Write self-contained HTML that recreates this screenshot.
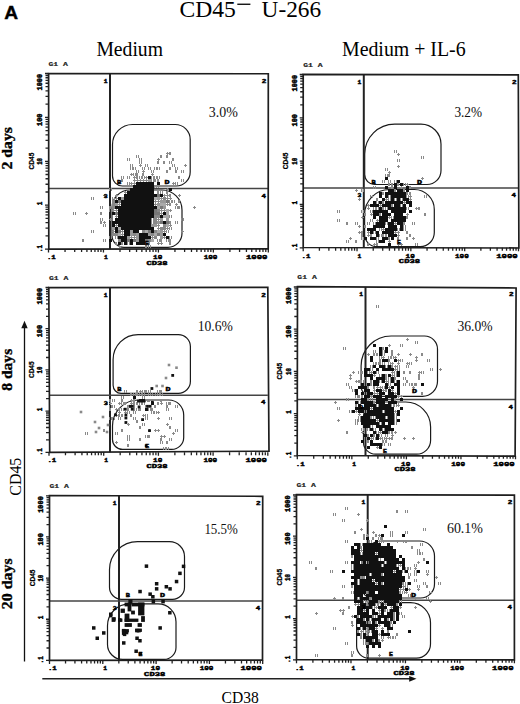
<!DOCTYPE html>
<html><head><meta charset="utf-8"><style>
html,body{margin:0;padding:0;background:#fff;width:520px;height:704px;overflow:hidden}
svg{display:block}
</style></head><body>
<svg width="520" height="704" viewBox="0 0 520 704">
<path d="M48.50,249.10v3.5 M48.50,249.10h-3.5 M65.04,249.10v3.0 M48.50,235.88h-3.0 M74.72,249.10v3.0 M48.50,228.15h-3.0 M81.58,249.10v3.0 M48.50,222.67h-3.0 M86.91,249.10v3.0 M48.50,218.42h-3.0 M91.26,249.10v3.0 M48.50,214.94h-3.0 M94.94,249.10v3.0 M48.50,212.00h-3.0 M98.12,249.10v3.0 M48.50,209.45h-3.0 M100.94,249.10v3.0 M48.50,207.21h-3.0 M103.45,249.10v3.5 M48.50,205.20h-3.5 M119.99,249.10v3.0 M48.50,191.98h-3.0 M129.67,249.10v3.0 M48.50,184.25h-3.0 M136.53,249.10v3.0 M48.50,178.77h-3.0 M141.86,249.10v3.0 M48.50,174.52h-3.0 M146.21,249.10v3.0 M48.50,171.04h-3.0 M149.89,249.10v3.0 M48.50,168.10h-3.0 M153.07,249.10v3.0 M48.50,165.55h-3.0 M155.89,249.10v3.0 M48.50,163.31h-3.0 M158.40,249.10v3.5 M48.50,161.30h-3.5 M174.94,249.10v3.0 M48.50,148.08h-3.0 M184.62,249.10v3.0 M48.50,140.35h-3.0 M191.48,249.10v3.0 M48.50,134.87h-3.0 M196.81,249.10v3.0 M48.50,130.62h-3.0 M201.16,249.10v3.0 M48.50,127.14h-3.0 M204.84,249.10v3.0 M48.50,124.20h-3.0 M208.02,249.10v3.0 M48.50,121.65h-3.0 M210.84,249.10v3.0 M48.50,119.41h-3.0 M213.35,249.10v3.5 M48.50,117.40h-3.5 M229.89,249.10v3.0 M48.50,104.18h-3.0 M239.57,249.10v3.0 M48.50,96.45h-3.0 M246.43,249.10v3.0 M48.50,90.97h-3.0 M251.76,249.10v3.0 M48.50,86.72h-3.0 M256.11,249.10v3.0 M48.50,83.24h-3.0 M259.79,249.10v3.0 M48.50,80.30h-3.0 M262.97,249.10v3.0 M48.50,77.75h-3.0 M265.79,249.10v3.0 M48.50,75.51h-3.0 M268.30,249.10v3.5 M48.50,73.50h-3.5" stroke="#222" stroke-width="1.3" fill="none"/>
<path d="M132.50,124.50 L175.20,124.50 C183.48,124.50 190.20,131.22 190.20,139.50 L190.20,172.00 C190.20,179.73 183.93,186.00 176.20,186.00 L122.50,186.00 C116.98,186.00 112.50,181.52 112.50,176.00 L112.50,144.50 C112.50,133.45 121.45,124.50 132.50,124.50Z" stroke="#1a1a1a" stroke-width="1.2" fill="none"/>
<path d="M130.00,190.00 L162.00,190.00 C173.05,190.00 182.00,198.95 182.00,210.00 L182.00,233.30 C182.00,241.03 175.73,247.30 168.00,247.30 L124.00,247.30 C117.37,247.30 112.00,241.93 112.00,235.30 L112.00,208.00 C112.00,198.06 120.06,190.00 130.00,190.00Z" stroke="#1a1a1a" stroke-width="1.2" fill="none"/>
<path d="M110.00,73.50V249.10" stroke="#222" stroke-width="2" fill="none"/>
<path d="M48.50,188.50H268.30" stroke="#444" stroke-width="1.5" fill="none"/>
<g fill="#8a8a8a" shape-rendering="crispEdges"><rect x="167" y="152" width="1" height="3"/><rect x="166" y="153" width="3" height="1"/><rect x="169" y="152" width="2" height="3"/><rect x="136" y="155" width="1" height="3"/><rect x="138" y="155" width="1" height="3"/><rect x="160" y="155" width="2" height="3"/><rect x="166" y="155" width="2" height="3"/><rect x="127" y="158" width="1" height="3"/><rect x="129" y="158" width="1" height="3"/><rect x="139" y="158" width="1" height="3"/><rect x="141" y="158" width="1" height="3"/><rect x="158" y="158" width="1" height="3"/><rect x="157" y="159" width="3" height="1"/><rect x="172" y="158" width="2" height="3"/><rect x="139" y="161" width="1" height="3"/><rect x="141" y="161" width="1" height="3"/><rect x="157" y="161" width="2" height="3"/><rect x="163" y="161" width="2" height="3"/><rect x="169" y="161" width="1" height="3"/><rect x="171" y="161" width="1" height="3"/><rect x="130" y="164" width="1" height="3"/><rect x="132" y="164" width="1" height="3"/><rect x="140" y="164" width="1" height="3"/><rect x="139" y="165" width="3" height="1"/><rect x="145" y="164" width="1" height="3"/><rect x="147" y="164" width="1" height="3"/><rect x="172" y="164" width="1" height="3"/><rect x="174" y="164" width="1" height="3"/><rect x="185" y="164" width="1" height="3"/><rect x="184" y="165" width="3" height="1"/><rect x="130" y="167" width="1" height="3"/><rect x="132" y="167" width="1" height="3"/><rect x="133" y="167" width="1" height="3"/><rect x="135" y="167" width="1" height="3"/><rect x="142" y="167" width="1" height="3"/><rect x="144" y="167" width="1" height="3"/><rect x="148" y="167" width="1" height="3"/><rect x="150" y="167" width="1" height="3"/><rect x="154" y="167" width="1" height="3"/><rect x="156" y="167" width="1" height="3"/><rect x="157" y="167" width="1" height="3"/><rect x="159" y="167" width="1" height="3"/><rect x="169" y="167" width="2" height="3"/><rect x="175" y="167" width="1" height="3"/><rect x="177" y="167" width="1" height="3"/><rect x="136" y="170" width="1" height="3"/><rect x="138" y="170" width="1" height="3"/><rect x="143" y="170" width="1" height="3"/><rect x="142" y="171" width="3" height="1"/><rect x="151" y="170" width="1" height="3"/><rect x="153" y="170" width="1" height="3"/><rect x="166" y="170" width="2" height="3"/><rect x="175" y="170" width="2" height="3"/><rect x="181" y="170" width="1" height="3"/><rect x="183" y="170" width="1" height="3"/><rect x="131" y="173" width="1" height="3"/><rect x="130" y="174" width="3" height="1"/><rect x="133" y="173" width="1" height="3"/><rect x="135" y="173" width="1" height="3"/><rect x="136" y="173" width="2" height="3"/><rect x="142" y="173" width="2" height="3"/><rect x="152" y="173" width="1" height="3"/><rect x="151" y="174" width="3" height="1"/><rect x="121" y="176" width="1" height="3"/><rect x="123" y="176" width="1" height="3"/><rect x="127" y="176" width="1" height="3"/><rect x="129" y="176" width="1" height="3"/><rect x="134" y="176" width="1" height="3"/><rect x="133" y="177" width="3" height="1"/><rect x="136" y="176" width="2" height="3"/><rect x="139" y="176" width="1" height="3"/><rect x="141" y="176" width="1" height="3"/><rect x="142" y="176" width="1" height="3"/><rect x="144" y="176" width="1" height="3"/><rect x="146" y="176" width="1" height="3"/><rect x="145" y="177" width="3" height="1"/><rect x="151" y="176" width="1" height="3"/><rect x="153" y="176" width="1" height="3"/><rect x="154" y="176" width="1" height="3"/><rect x="156" y="176" width="1" height="3"/><rect x="157" y="176" width="1" height="3"/><rect x="159" y="176" width="1" height="3"/><rect x="178" y="176" width="2" height="3"/><rect x="121" y="179" width="2" height="3"/><rect x="134" y="179" width="1" height="3"/><rect x="133" y="180" width="3" height="1"/><rect x="137" y="179" width="1" height="3"/><rect x="136" y="180" width="3" height="1"/><rect x="140" y="179" width="1" height="3"/><rect x="139" y="180" width="3" height="1"/><rect x="143" y="179" width="1" height="3"/><rect x="142" y="180" width="3" height="1"/><rect x="146" y="179" width="1" height="3"/><rect x="145" y="180" width="3" height="1"/><rect x="151" y="179" width="1" height="3"/><rect x="153" y="179" width="1" height="3"/><rect x="154" y="179" width="2" height="3"/><rect x="157" y="179" width="2" height="3"/><rect x="181" y="179" width="1" height="3"/><rect x="183" y="179" width="1" height="3"/><rect x="127" y="182" width="1" height="3"/><rect x="129" y="182" width="1" height="3"/><rect x="131" y="182" width="1" height="3"/><rect x="130" y="183" width="3" height="1"/><rect x="134" y="182" width="1" height="3"/><rect x="133" y="183" width="3" height="1"/><rect x="173" y="182" width="1" height="3"/><rect x="172" y="183" width="3" height="1"/><rect x="175" y="182" width="1" height="3"/><rect x="177" y="182" width="1" height="3"/><rect x="154" y="185" width="1" height="3"/><rect x="156" y="185" width="1" height="3"/><rect x="158" y="185" width="1" height="3"/><rect x="157" y="186" width="3" height="1"/><rect x="109" y="188" width="1" height="3"/><rect x="111" y="188" width="1" height="3"/><rect x="167" y="188" width="1" height="3"/><rect x="166" y="189" width="3" height="1"/><rect x="125" y="191" width="1" height="3"/><rect x="124" y="192" width="3" height="1"/><rect x="157" y="191" width="2" height="3"/><rect x="160" y="191" width="1" height="3"/><rect x="162" y="191" width="1" height="3"/><rect x="166" y="191" width="2" height="3"/><rect x="104" y="194" width="1" height="3"/><rect x="103" y="195" width="3" height="1"/><rect x="116" y="194" width="1" height="3"/><rect x="115" y="195" width="3" height="1"/><rect x="164" y="194" width="1" height="3"/><rect x="163" y="195" width="3" height="1"/><rect x="167" y="194" width="1" height="3"/><rect x="166" y="195" width="3" height="1"/><rect x="169" y="194" width="2" height="3"/><rect x="179" y="194" width="1" height="3"/><rect x="178" y="195" width="3" height="1"/><rect x="91" y="197" width="1" height="3"/><rect x="93" y="197" width="1" height="3"/><rect x="112" y="197" width="1" height="3"/><rect x="114" y="197" width="1" height="3"/><rect x="116" y="197" width="1" height="3"/><rect x="115" y="198" width="3" height="1"/><rect x="161" y="197" width="1" height="3"/><rect x="160" y="198" width="3" height="1"/><rect x="167" y="197" width="1" height="3"/><rect x="166" y="198" width="3" height="1"/><rect x="170" y="197" width="1" height="3"/><rect x="169" y="198" width="3" height="1"/><rect x="155" y="200" width="1" height="3"/><rect x="154" y="201" width="3" height="1"/><rect x="158" y="200" width="1" height="3"/><rect x="157" y="201" width="3" height="1"/><rect x="169" y="200" width="1" height="3"/><rect x="171" y="200" width="1" height="3"/><rect x="172" y="200" width="1" height="3"/><rect x="174" y="200" width="1" height="3"/><rect x="178" y="200" width="2" height="3"/><rect x="119" y="203" width="1" height="3"/><rect x="118" y="204" width="3" height="1"/><rect x="155" y="203" width="1" height="3"/><rect x="154" y="204" width="3" height="1"/><rect x="167" y="203" width="1" height="3"/><rect x="166" y="204" width="3" height="1"/><rect x="169" y="203" width="2" height="3"/><rect x="176" y="203" width="1" height="3"/><rect x="175" y="204" width="3" height="1"/><rect x="100" y="206" width="1" height="3"/><rect x="102" y="206" width="1" height="3"/><rect x="109" y="206" width="2" height="3"/><rect x="175" y="206" width="1" height="3"/><rect x="177" y="206" width="1" height="3"/><rect x="178" y="206" width="2" height="3"/><rect x="194" y="206" width="1" height="3"/><rect x="193" y="207" width="3" height="1"/><rect x="109" y="209" width="1" height="3"/><rect x="111" y="209" width="1" height="3"/><rect x="113" y="209" width="1" height="3"/><rect x="112" y="210" width="3" height="1"/><rect x="116" y="209" width="1" height="3"/><rect x="115" y="210" width="3" height="1"/><rect x="161" y="209" width="1" height="3"/><rect x="160" y="210" width="3" height="1"/><rect x="164" y="209" width="1" height="3"/><rect x="163" y="210" width="3" height="1"/><rect x="170" y="209" width="1" height="3"/><rect x="169" y="210" width="3" height="1"/><rect x="73" y="212" width="1" height="3"/><rect x="75" y="212" width="1" height="3"/><rect x="86" y="212" width="1" height="3"/><rect x="85" y="213" width="3" height="1"/><rect x="100" y="212" width="2" height="3"/><rect x="161" y="212" width="1" height="3"/><rect x="160" y="213" width="3" height="1"/><rect x="116" y="215" width="1" height="3"/><rect x="115" y="216" width="3" height="1"/><rect x="169" y="215" width="1" height="3"/><rect x="171" y="215" width="1" height="3"/><rect x="100" y="218" width="1" height="3"/><rect x="102" y="218" width="1" height="3"/><rect x="110" y="218" width="1" height="3"/><rect x="109" y="219" width="3" height="1"/><rect x="151" y="218" width="1" height="3"/><rect x="153" y="218" width="1" height="3"/><rect x="158" y="218" width="1" height="3"/><rect x="157" y="219" width="3" height="1"/><rect x="181" y="218" width="1" height="3"/><rect x="183" y="218" width="1" height="3"/><rect x="100" y="221" width="2" height="3"/><rect x="104" y="221" width="1" height="3"/><rect x="103" y="222" width="3" height="1"/><rect x="151" y="221" width="1" height="3"/><rect x="153" y="221" width="1" height="3"/><rect x="169" y="221" width="2" height="3"/><rect x="175" y="221" width="1" height="3"/><rect x="177" y="221" width="1" height="3"/><rect x="103" y="224" width="1" height="3"/><rect x="105" y="224" width="1" height="3"/><rect x="116" y="224" width="1" height="3"/><rect x="115" y="225" width="3" height="1"/><rect x="158" y="224" width="1" height="3"/><rect x="157" y="225" width="3" height="1"/><rect x="170" y="224" width="1" height="3"/><rect x="169" y="225" width="3" height="1"/><rect x="158" y="227" width="1" height="3"/><rect x="157" y="228" width="3" height="1"/><rect x="167" y="227" width="1" height="3"/><rect x="166" y="228" width="3" height="1"/><rect x="169" y="227" width="1" height="3"/><rect x="171" y="227" width="1" height="3"/><rect x="91" y="230" width="1" height="3"/><rect x="93" y="230" width="1" height="3"/><rect x="113" y="230" width="1" height="3"/><rect x="112" y="231" width="3" height="1"/><rect x="122" y="230" width="1" height="3"/><rect x="121" y="231" width="3" height="1"/><rect x="164" y="230" width="1" height="3"/><rect x="163" y="231" width="3" height="1"/><rect x="166" y="230" width="1" height="3"/><rect x="168" y="230" width="1" height="3"/><rect x="182" y="230" width="1" height="3"/><rect x="181" y="231" width="3" height="1"/><rect x="122" y="233" width="1" height="3"/><rect x="121" y="234" width="3" height="1"/><rect x="109" y="236" width="1" height="3"/><rect x="111" y="236" width="1" height="3"/><rect x="115" y="236" width="1" height="3"/><rect x="117" y="236" width="1" height="3"/><rect x="131" y="236" width="1" height="3"/><rect x="130" y="237" width="3" height="1"/><rect x="134" y="236" width="1" height="3"/><rect x="133" y="237" width="3" height="1"/><rect x="152" y="236" width="1" height="3"/><rect x="151" y="237" width="3" height="1"/><rect x="164" y="236" width="1" height="3"/><rect x="163" y="237" width="3" height="1"/><rect x="169" y="236" width="1" height="3"/><rect x="171" y="236" width="1" height="3"/><rect x="82" y="239" width="2" height="3"/><rect x="103" y="239" width="1" height="3"/><rect x="105" y="239" width="1" height="3"/><rect x="157" y="239" width="1" height="3"/><rect x="159" y="239" width="1" height="3"/><rect x="160" y="239" width="2" height="3"/><rect x="166" y="239" width="1" height="3"/><rect x="168" y="239" width="1" height="3"/><rect x="169" y="239" width="2" height="3"/><rect x="115" y="242" width="2" height="3"/><rect x="121" y="242" width="2" height="3"/><rect x="127" y="242" width="1" height="3"/><rect x="129" y="242" width="1" height="3"/><rect x="145" y="242" width="1" height="3"/><rect x="147" y="242" width="1" height="3"/><rect x="148" y="242" width="2" height="3"/><rect x="158" y="242" width="1" height="3"/><rect x="157" y="243" width="3" height="1"/><rect x="161" y="242" width="1" height="3"/><rect x="160" y="243" width="3" height="1"/><rect x="169" y="242" width="2" height="3"/><rect x="119" y="245" width="1" height="3"/><rect x="118" y="246" width="3" height="1"/><rect x="145" y="245" width="2" height="3"/><rect x="148" y="245" width="1" height="3"/><rect x="150" y="245" width="1" height="3"/></g><g fill="#888" shape-rendering="crispEdges"><rect x="148" y="179" width="3" height="3" fill="#999"/><rect x="157" y="194" width="3" height="3" fill="#777"/><rect x="121" y="197" width="3" height="3" fill="#999"/><rect x="154" y="197" width="3" height="3" fill="#aaa"/><rect x="157" y="197" width="3" height="3" fill="#999"/><rect x="163" y="197" width="3" height="3" fill="#888"/><rect x="112" y="200" width="3" height="3" fill="#888"/><rect x="118" y="200" width="3" height="3" fill="#777"/><rect x="160" y="200" width="3" height="3" fill="#999"/><rect x="163" y="200" width="3" height="3" fill="#999"/><rect x="166" y="200" width="3" height="3" fill="#777"/><rect x="112" y="203" width="3" height="3" fill="#888"/><rect x="115" y="203" width="3" height="3" fill="#999"/><rect x="157" y="203" width="3" height="3" fill="#999"/><rect x="160" y="203" width="3" height="3" fill="#aaa"/><rect x="163" y="203" width="3" height="3" fill="#aaa"/><rect x="112" y="206" width="3" height="3" fill="#888"/><rect x="157" y="206" width="3" height="3" fill="#aaa"/><rect x="160" y="206" width="3" height="3" fill="#777"/><rect x="163" y="206" width="3" height="3" fill="#999"/><rect x="154" y="209" width="3" height="3" fill="#777"/><rect x="157" y="209" width="3" height="3" fill="#888"/><rect x="166" y="209" width="3" height="3" fill="#aaa"/><rect x="115" y="212" width="3" height="3" fill="#777"/><rect x="154" y="212" width="3" height="3" fill="#777"/><rect x="157" y="212" width="3" height="3" fill="#777"/><rect x="166" y="212" width="3" height="3" fill="#aaa"/><rect x="154" y="215" width="3" height="3" fill="#888"/><rect x="157" y="215" width="3" height="3" fill="#888"/><rect x="163" y="215" width="3" height="3" fill="#aaa"/><rect x="166" y="215" width="3" height="3" fill="#aaa"/><rect x="154" y="218" width="3" height="3" fill="#888"/><rect x="160" y="218" width="3" height="3" fill="#999"/><rect x="166" y="218" width="3" height="3" fill="#999"/><rect x="154" y="221" width="3" height="3" fill="#888"/><rect x="157" y="221" width="3" height="3" fill="#999"/><rect x="160" y="221" width="3" height="3" fill="#777"/><rect x="166" y="221" width="3" height="3" fill="#777"/><rect x="151" y="224" width="3" height="3" fill="#999"/><rect x="154" y="224" width="3" height="3" fill="#999"/><rect x="163" y="224" width="3" height="3" fill="#888"/><rect x="166" y="224" width="3" height="3" fill="#aaa"/><rect x="112" y="227" width="3" height="3" fill="#999"/><rect x="118" y="227" width="3" height="3" fill="#aaa"/><rect x="160" y="227" width="3" height="3" fill="#888"/><rect x="163" y="227" width="3" height="3" fill="#888"/><rect x="118" y="230" width="3" height="3" fill="#777"/><rect x="130" y="230" width="3" height="3" fill="#999"/><rect x="142" y="230" width="3" height="3" fill="#888"/><rect x="145" y="230" width="3" height="3" fill="#aaa"/><rect x="148" y="230" width="3" height="3" fill="#777"/><rect x="154" y="230" width="3" height="3" fill="#888"/><rect x="157" y="230" width="3" height="3" fill="#aaa"/><rect x="160" y="230" width="3" height="3" fill="#999"/><rect x="112" y="233" width="3" height="3" fill="#888"/><rect x="115" y="233" width="3" height="3" fill="#888"/><rect x="118" y="233" width="3" height="3" fill="#aaa"/><rect x="130" y="233" width="3" height="3" fill="#999"/><rect x="133" y="233" width="3" height="3" fill="#888"/><rect x="136" y="233" width="3" height="3" fill="#999"/><rect x="148" y="233" width="3" height="3" fill="#999"/><rect x="151" y="233" width="3" height="3" fill="#888"/><rect x="154" y="233" width="3" height="3" fill="#aaa"/><rect x="157" y="233" width="3" height="3" fill="#777"/><rect x="160" y="233" width="3" height="3" fill="#999"/><rect x="127" y="236" width="3" height="3" fill="#999"/><rect x="136" y="236" width="3" height="3" fill="#999"/><rect x="154" y="236" width="3" height="3" fill="#888"/><rect x="160" y="236" width="3" height="3" fill="#999"/><rect x="118" y="239" width="3" height="3" fill="#888"/><rect x="127" y="239" width="3" height="3" fill="#777"/><rect x="133" y="239" width="3" height="3" fill="#777"/><rect x="136" y="239" width="3" height="3" fill="#999"/><rect x="145" y="239" width="3" height="3" fill="#777"/><rect x="148" y="239" width="3" height="3" fill="#888"/><rect x="151" y="239" width="3" height="3" fill="#aaa"/></g><g fill="#111" shape-rendering="crispEdges"><rect x="148" y="176" width="3" height="3"/><rect x="136" y="182" width="18" height="3"/><rect x="157" y="182" width="3" height="3"/><rect x="133" y="185" width="21" height="3"/><rect x="130" y="188" width="24" height="3"/><rect x="169" y="188" width="3" height="3"/><rect x="127" y="191" width="27" height="3"/><rect x="124" y="194" width="33" height="3"/><rect x="160" y="194" width="3" height="3"/><rect x="118" y="197" width="3" height="3"/><rect x="124" y="197" width="30" height="3"/><rect x="115" y="200" width="3" height="3"/><rect x="121" y="200" width="33" height="3"/><rect x="121" y="203" width="33" height="3"/><rect x="115" y="206" width="42" height="3"/><rect x="118" y="209" width="36" height="3"/><rect x="112" y="212" width="3" height="3"/><rect x="118" y="212" width="36" height="3"/><rect x="163" y="212" width="3" height="3"/><rect x="118" y="215" width="36" height="3"/><rect x="160" y="215" width="3" height="3"/><rect x="115" y="218" width="36" height="3"/><rect x="112" y="221" width="39" height="3"/><rect x="163" y="221" width="3" height="3"/><rect x="112" y="224" width="3" height="3"/><rect x="118" y="224" width="33" height="3"/><rect x="115" y="227" width="3" height="3"/><rect x="121" y="227" width="33" height="3"/><rect x="115" y="230" width="3" height="3"/><rect x="124" y="230" width="6" height="3"/><rect x="133" y="230" width="6" height="3"/><rect x="151" y="230" width="3" height="3"/><rect x="124" y="233" width="6" height="3"/><rect x="139" y="233" width="9" height="3"/><rect x="163" y="233" width="3" height="3"/><rect x="118" y="236" width="9" height="3"/><rect x="139" y="236" width="12" height="3"/><rect x="166" y="236" width="3" height="3"/><rect x="109" y="239" width="3" height="3"/><rect x="121" y="239" width="6" height="3"/><rect x="130" y="239" width="3" height="3"/><rect x="139" y="239" width="6" height="3"/><rect x="118" y="242" width="3" height="3"/><rect x="124" y="242" width="3" height="3"/><rect x="130" y="242" width="3" height="3"/><rect x="136" y="242" width="9" height="3"/></g>
<path d="M48.60,73.50 L268.30,73.75 L268.20,248.80 L48.80,249.10 Z" stroke="#1e1e1e" stroke-width="1.7" fill="none" stroke-linejoin="miter"/>
<text x="46.90" y="258.80" font-family="Liberation Mono" font-weight="bold" font-size="6" text-anchor="start" fill="#000" textLength="8.9" lengthAdjust="spacingAndGlyphs" stroke="#000" stroke-width="0.45">.1</text>
<text x="103.95" y="258.80" font-family="Liberation Mono" font-weight="bold" font-size="6" text-anchor="start" fill="#000" textLength="3.8" lengthAdjust="spacingAndGlyphs" stroke="#000" stroke-width="0.45">1</text>
<text x="153.10" y="258.80" font-family="Liberation Mono" font-weight="bold" font-size="6" text-anchor="start" fill="#000" textLength="9.2" lengthAdjust="spacingAndGlyphs" stroke="#000" stroke-width="0.45">10</text>
<text x="203.65" y="258.80" font-family="Liberation Mono" font-weight="bold" font-size="6" text-anchor="start" fill="#000" textLength="13.8" lengthAdjust="spacingAndGlyphs" stroke="#000" stroke-width="0.45">100</text>
<text x="246.00" y="258.80" font-family="Liberation Mono" font-weight="bold" font-size="6" text-anchor="start" fill="#000" textLength="21.5" lengthAdjust="spacingAndGlyphs" stroke="#000" stroke-width="0.45">1000</text>
<text x="146.40" y="264.60" font-family="Liberation Mono" font-weight="bold" font-size="5.8" text-anchor="start" fill="#000" textLength="21.2" lengthAdjust="spacingAndGlyphs" stroke="#000" stroke-width="0.45">CD38</text>
<text x="41.90" y="245.10" font-family="Liberation Mono" font-weight="bold" font-size="6.4" text-anchor="end" fill="#000" textLength="6.9" lengthAdjust="spacingAndGlyphs" transform="rotate(-90 41.90 245.10)" stroke="#000" stroke-width="0.45">.1</text>
<text x="41.90" y="201.70" font-family="Liberation Mono" font-weight="bold" font-size="6.4" text-anchor="end" fill="#000" textLength="3.6" lengthAdjust="spacingAndGlyphs" transform="rotate(-90 41.90 201.70)" stroke="#000" stroke-width="0.45">1</text>
<text x="41.90" y="158.00" font-family="Liberation Mono" font-weight="bold" font-size="6.4" text-anchor="end" fill="#000" textLength="6.8" lengthAdjust="spacingAndGlyphs" transform="rotate(-90 41.90 158.00)" stroke="#000" stroke-width="0.45">10</text>
<text x="41.90" y="113.60" font-family="Liberation Mono" font-weight="bold" font-size="6.4" text-anchor="end" fill="#000" textLength="12.4" lengthAdjust="spacingAndGlyphs" transform="rotate(-90 41.90 113.60)" stroke="#000" stroke-width="0.45">100</text>
<text x="41.90" y="73.80" font-family="Liberation Mono" font-weight="bold" font-size="6.4" text-anchor="end" fill="#000" textLength="16.7" lengthAdjust="spacingAndGlyphs" transform="rotate(-90 41.90 73.80)" stroke="#000" stroke-width="0.45">1000</text>
<text x="33.70" y="169.50" font-family="Liberation Sans" font-weight="bold" font-size="7.4" text-anchor="start" fill="#000" textLength="16.8" lengthAdjust="spacingAndGlyphs" transform="rotate(-90 33.70 169.50)" stroke="#000" stroke-width="0.25">CD45</text>
<text x="48.50" y="65.50" font-family="Liberation Mono" font-weight="bold" font-size="5.5" text-anchor="start" fill="#222" textLength="19.5" lengthAdjust="spacingAndGlyphs" stroke="#222" stroke-width="0.15">G1 A</text>
<text x="103.80" y="82.70" font-family="Liberation Mono" font-weight="bold" font-size="6" text-anchor="start" fill="#000" textLength="3.8" lengthAdjust="spacingAndGlyphs" stroke="#000" stroke-width="0.45">1</text>
<text x="261.70" y="82.90" font-family="Liberation Mono" font-weight="bold" font-size="6" text-anchor="start" fill="#000" textLength="4.6" lengthAdjust="spacingAndGlyphs" stroke="#000" stroke-width="0.45">2</text>
<text x="103.80" y="197.70" font-family="Liberation Mono" font-weight="bold" font-size="6" text-anchor="start" fill="#000" textLength="3.9" lengthAdjust="spacingAndGlyphs" stroke="#000" stroke-width="0.45">3</text>
<text x="261.40" y="197.50" font-family="Liberation Mono" font-weight="bold" font-size="6" text-anchor="start" fill="#000" textLength="4.4" lengthAdjust="spacingAndGlyphs" stroke="#000" stroke-width="0.45">4</text>
<text x="117.00" y="184.20" font-family="Liberation Mono" font-weight="bold" font-size="5.6" text-anchor="start" fill="#000" textLength="4.2" lengthAdjust="spacingAndGlyphs" stroke="#000" stroke-width="0.45">B</text>
<text x="164.60" y="184.20" font-family="Liberation Mono" font-weight="bold" font-size="5.6" text-anchor="start" fill="#000" textLength="5.0" lengthAdjust="spacingAndGlyphs" stroke="#000" stroke-width="0.45">D</text>
<text x="145.00" y="245.00" font-family="Liberation Mono" font-weight="bold" font-size="5.6" text-anchor="start" fill="#000" textLength="3.9" lengthAdjust="spacingAndGlyphs" stroke="#000" stroke-width="0.45">E</text>
<text x="208.80" y="116.90" font-family="Liberation Serif" font-weight="normal" font-size="14" text-anchor="start" fill="#111" textLength="29.1" lengthAdjust="spacingAndGlyphs">3.0%</text>
<path d="M303.20,247.80v3.5 M303.20,247.80h-3.5 M319.40,247.80v3.0 M303.20,234.76h-3.0 M328.88,247.80v3.0 M303.20,227.13h-3.0 M335.61,247.80v3.0 M303.20,221.72h-3.0 M340.82,247.80v3.0 M303.20,217.52h-3.0 M345.08,247.80v3.0 M303.20,214.09h-3.0 M348.69,247.80v3.0 M303.20,211.19h-3.0 M351.81,247.80v3.0 M303.20,208.67h-3.0 M354.56,247.80v3.0 M303.20,206.46h-3.0 M357.02,247.80v3.5 M303.20,204.48h-3.5 M373.23,247.80v3.0 M303.20,191.43h-3.0 M382.71,247.80v3.0 M303.20,183.80h-3.0 M389.43,247.80v3.0 M303.20,178.39h-3.0 M394.65,247.80v3.0 M303.20,174.19h-3.0 M398.91,247.80v3.0 M303.20,170.76h-3.0 M402.51,247.80v3.0 M303.20,167.86h-3.0 M405.63,247.80v3.0 M303.20,165.35h-3.0 M408.39,247.80v3.0 M303.20,163.13h-3.0 M410.85,247.80v3.5 M303.20,161.15h-3.5 M427.05,247.80v3.0 M303.20,148.11h-3.0 M436.53,247.80v3.0 M303.20,140.48h-3.0 M443.26,247.80v3.0 M303.20,135.07h-3.0 M448.47,247.80v3.0 M303.20,130.87h-3.0 M452.73,247.80v3.0 M303.20,127.44h-3.0 M456.34,247.80v3.0 M303.20,124.54h-3.0 M459.46,247.80v3.0 M303.20,122.02h-3.0 M462.21,247.80v3.0 M303.20,119.81h-3.0 M464.68,247.80v3.5 M303.20,117.82h-3.5 M480.88,247.80v3.0 M303.20,104.78h-3.0 M490.36,247.80v3.0 M303.20,97.15h-3.0 M497.08,247.80v3.0 M303.20,91.74h-3.0 M502.30,247.80v3.0 M303.20,87.54h-3.0 M506.56,247.80v3.0 M303.20,84.11h-3.0 M510.16,247.80v3.0 M303.20,81.21h-3.0 M513.28,247.80v3.0 M303.20,78.70h-3.0 M516.04,247.80v3.0 M303.20,76.48h-3.0 M518.50,247.80v3.5 M303.20,74.50h-3.5" stroke="#222" stroke-width="1.3" fill="none"/>
<path d="M394.70,124.10 L421.00,124.10 C432.05,124.10 441.00,133.05 441.00,144.10 L441.00,170.50 C441.00,178.23 434.73,184.50 427.00,184.50 L374.70,184.50 C369.18,184.50 364.70,180.02 364.70,174.50 L364.70,154.10 C364.70,137.53 378.13,124.10 394.70,124.10Z" stroke="#1a1a1a" stroke-width="1.2" fill="none"/>
<path d="M389.60,189.50 L414.30,189.50 C425.35,189.50 434.30,198.45 434.30,209.50 L434.30,232.60 C434.30,240.33 428.03,246.60 420.30,246.60 L376.60,246.60 C369.97,246.60 364.60,241.23 364.60,234.60 L364.60,214.50 C364.60,200.69 375.79,189.50 389.60,189.50Z" stroke="#1a1a1a" stroke-width="1.2" fill="none"/>
<path d="M363.80,74.50V247.80" stroke="#222" stroke-width="2" fill="none"/>
<path d="M303.20,188.10H518.50" stroke="#444" stroke-width="1.5" fill="none"/>
<g fill="#8a8a8a" shape-rendering="crispEdges"><rect x="394" y="150" width="1" height="3"/><rect x="396" y="150" width="1" height="3"/><rect x="398" y="153" width="1" height="3"/><rect x="397" y="154" width="3" height="1"/><rect x="421" y="156" width="1" height="3"/><rect x="423" y="156" width="1" height="3"/><rect x="397" y="159" width="1" height="3"/><rect x="399" y="159" width="1" height="3"/><rect x="398" y="165" width="1" height="3"/><rect x="397" y="166" width="3" height="1"/><rect x="385" y="168" width="1" height="3"/><rect x="387" y="168" width="1" height="3"/><rect x="389" y="171" width="1" height="3"/><rect x="388" y="172" width="3" height="1"/><rect x="385" y="174" width="1" height="3"/><rect x="387" y="174" width="1" height="3"/><rect x="388" y="174" width="2" height="3"/><rect x="422" y="177" width="1" height="3"/><rect x="421" y="178" width="3" height="1"/><rect x="382" y="180" width="1" height="3"/><rect x="384" y="180" width="1" height="3"/><rect x="388" y="180" width="1" height="3"/><rect x="390" y="180" width="1" height="3"/><rect x="394" y="180" width="1" height="3"/><rect x="396" y="180" width="1" height="3"/><rect x="388" y="183" width="2" height="3"/><rect x="391" y="183" width="2" height="3"/><rect x="397" y="183" width="2" height="3"/><rect x="403" y="183" width="1" height="3"/><rect x="405" y="183" width="1" height="3"/><rect x="407" y="183" width="1" height="3"/><rect x="406" y="184" width="3" height="1"/><rect x="373" y="186" width="1" height="3"/><rect x="375" y="186" width="1" height="3"/><rect x="391" y="186" width="2" height="3"/><rect x="401" y="186" width="1" height="3"/><rect x="400" y="187" width="3" height="1"/><rect x="409" y="186" width="2" height="3"/><rect x="356" y="189" width="1" height="3"/><rect x="355" y="190" width="3" height="1"/><rect x="361" y="189" width="1" height="3"/><rect x="363" y="189" width="1" height="3"/><rect x="394" y="189" width="2" height="3"/><rect x="403" y="189" width="2" height="3"/><rect x="382" y="192" width="2" height="3"/><rect x="406" y="192" width="2" height="3"/><rect x="409" y="192" width="2" height="3"/><rect x="370" y="195" width="1" height="3"/><rect x="372" y="195" width="1" height="3"/><rect x="388" y="195" width="1" height="3"/><rect x="390" y="195" width="1" height="3"/><rect x="406" y="195" width="1" height="3"/><rect x="408" y="195" width="1" height="3"/><rect x="410" y="195" width="1" height="3"/><rect x="409" y="196" width="3" height="1"/><rect x="424" y="195" width="1" height="3"/><rect x="426" y="195" width="1" height="3"/><rect x="359" y="198" width="1" height="3"/><rect x="358" y="199" width="3" height="1"/><rect x="376" y="198" width="2" height="3"/><rect x="386" y="198" width="1" height="3"/><rect x="385" y="199" width="3" height="1"/><rect x="388" y="198" width="1" height="3"/><rect x="390" y="198" width="1" height="3"/><rect x="394" y="198" width="1" height="3"/><rect x="396" y="198" width="1" height="3"/><rect x="400" y="198" width="1" height="3"/><rect x="402" y="198" width="1" height="3"/><rect x="410" y="198" width="1" height="3"/><rect x="409" y="199" width="3" height="1"/><rect x="376" y="201" width="1" height="3"/><rect x="378" y="201" width="1" height="3"/><rect x="382" y="201" width="2" height="3"/><rect x="404" y="201" width="1" height="3"/><rect x="403" y="202" width="3" height="1"/><rect x="368" y="204" width="1" height="3"/><rect x="367" y="205" width="3" height="1"/><rect x="380" y="204" width="1" height="3"/><rect x="379" y="205" width="3" height="1"/><rect x="391" y="204" width="2" height="3"/><rect x="400" y="204" width="1" height="3"/><rect x="402" y="204" width="1" height="3"/><rect x="368" y="207" width="1" height="3"/><rect x="367" y="208" width="3" height="1"/><rect x="373" y="207" width="1" height="3"/><rect x="375" y="207" width="1" height="3"/><rect x="376" y="207" width="1" height="3"/><rect x="378" y="207" width="1" height="3"/><rect x="382" y="207" width="2" height="3"/><rect x="385" y="207" width="1" height="3"/><rect x="387" y="207" width="1" height="3"/><rect x="406" y="207" width="1" height="3"/><rect x="408" y="207" width="1" height="3"/><rect x="416" y="207" width="1" height="3"/><rect x="415" y="208" width="3" height="1"/><rect x="418" y="207" width="2" height="3"/><rect x="337" y="210" width="1" height="3"/><rect x="339" y="210" width="1" height="3"/><rect x="361" y="210" width="1" height="3"/><rect x="363" y="210" width="1" height="3"/><rect x="370" y="210" width="1" height="3"/><rect x="372" y="210" width="1" height="3"/><rect x="364" y="213" width="2" height="3"/><rect x="371" y="213" width="1" height="3"/><rect x="370" y="214" width="3" height="1"/><rect x="379" y="213" width="2" height="3"/><rect x="407" y="213" width="1" height="3"/><rect x="406" y="214" width="3" height="1"/><rect x="424" y="213" width="2" height="3"/><rect x="362" y="216" width="1" height="3"/><rect x="361" y="217" width="3" height="1"/><rect x="389" y="216" width="1" height="3"/><rect x="388" y="217" width="3" height="1"/><rect x="391" y="216" width="1" height="3"/><rect x="393" y="216" width="1" height="3"/><rect x="406" y="216" width="2" height="3"/><rect x="337" y="219" width="1" height="3"/><rect x="339" y="219" width="1" height="3"/><rect x="370" y="219" width="1" height="3"/><rect x="372" y="219" width="1" height="3"/><rect x="377" y="219" width="1" height="3"/><rect x="376" y="220" width="3" height="1"/><rect x="346" y="222" width="2" height="3"/><rect x="355" y="222" width="1" height="3"/><rect x="357" y="222" width="1" height="3"/><rect x="367" y="222" width="1" height="3"/><rect x="369" y="222" width="1" height="3"/><rect x="373" y="222" width="1" height="3"/><rect x="375" y="222" width="1" height="3"/><rect x="385" y="222" width="1" height="3"/><rect x="387" y="222" width="1" height="3"/><rect x="395" y="222" width="1" height="3"/><rect x="394" y="223" width="3" height="1"/><rect x="403" y="222" width="2" height="3"/><rect x="412" y="222" width="1" height="3"/><rect x="414" y="222" width="1" height="3"/><rect x="359" y="225" width="1" height="3"/><rect x="358" y="226" width="3" height="1"/><rect x="364" y="225" width="2" height="3"/><rect x="403" y="225" width="1" height="3"/><rect x="405" y="225" width="1" height="3"/><rect x="379" y="228" width="1" height="3"/><rect x="381" y="228" width="1" height="3"/><rect x="383" y="228" width="1" height="3"/><rect x="382" y="229" width="3" height="1"/><rect x="397" y="228" width="1" height="3"/><rect x="399" y="228" width="1" height="3"/><rect x="403" y="228" width="1" height="3"/><rect x="405" y="228" width="1" height="3"/><rect x="359" y="231" width="1" height="3"/><rect x="358" y="232" width="3" height="1"/><rect x="361" y="231" width="2" height="3"/><rect x="368" y="231" width="1" height="3"/><rect x="367" y="232" width="3" height="1"/><rect x="373" y="231" width="1" height="3"/><rect x="375" y="231" width="1" height="3"/><rect x="395" y="231" width="1" height="3"/><rect x="394" y="232" width="3" height="1"/><rect x="398" y="231" width="1" height="3"/><rect x="397" y="232" width="3" height="1"/><rect x="406" y="231" width="2" height="3"/><rect x="361" y="234" width="2" height="3"/><rect x="368" y="234" width="1" height="3"/><rect x="367" y="235" width="3" height="1"/><rect x="370" y="234" width="2" height="3"/><rect x="379" y="234" width="1" height="3"/><rect x="381" y="234" width="1" height="3"/><rect x="382" y="234" width="2" height="3"/><rect x="385" y="234" width="2" height="3"/><rect x="398" y="234" width="1" height="3"/><rect x="397" y="235" width="3" height="1"/><rect x="409" y="234" width="2" height="3"/><rect x="350" y="237" width="1" height="3"/><rect x="349" y="238" width="3" height="1"/><rect x="361" y="237" width="1" height="3"/><rect x="363" y="237" width="1" height="3"/><rect x="376" y="237" width="1" height="3"/><rect x="378" y="237" width="1" height="3"/><rect x="388" y="237" width="2" height="3"/><rect x="397" y="237" width="2" height="3"/><rect x="406" y="237" width="2" height="3"/><rect x="413" y="237" width="1" height="3"/><rect x="412" y="238" width="3" height="1"/><rect x="346" y="240" width="1" height="3"/><rect x="348" y="240" width="1" height="3"/><rect x="355" y="240" width="2" height="3"/><rect x="376" y="240" width="1" height="3"/><rect x="378" y="240" width="1" height="3"/><rect x="389" y="240" width="1" height="3"/><rect x="388" y="241" width="3" height="1"/><rect x="367" y="243" width="2" height="3"/><rect x="374" y="243" width="1" height="3"/><rect x="373" y="244" width="3" height="1"/><rect x="376" y="243" width="2" height="3"/><rect x="398" y="243" width="1" height="3"/><rect x="397" y="244" width="3" height="1"/><rect x="401" y="243" width="1" height="3"/><rect x="400" y="244" width="3" height="1"/><rect x="415" y="243" width="1" height="3"/><rect x="417" y="243" width="1" height="3"/></g><g fill="#888" shape-rendering="crispEdges"></g><g fill="#111" shape-rendering="crispEdges"><rect x="385" y="177" width="3" height="3"/><rect x="397" y="180" width="3" height="3"/><rect x="394" y="183" width="3" height="3"/><rect x="400" y="183" width="3" height="3"/><rect x="385" y="186" width="3" height="3"/><rect x="394" y="186" width="3" height="3"/><rect x="406" y="186" width="3" height="3"/><rect x="388" y="189" width="6" height="3"/><rect x="397" y="189" width="6" height="3"/><rect x="406" y="189" width="3" height="3"/><rect x="379" y="192" width="3" height="3"/><rect x="385" y="192" width="21" height="3"/><rect x="379" y="195" width="3" height="3"/><rect x="385" y="195" width="3" height="3"/><rect x="391" y="195" width="15" height="3"/><rect x="382" y="198" width="3" height="3"/><rect x="391" y="198" width="3" height="3"/><rect x="397" y="198" width="3" height="3"/><rect x="403" y="198" width="6" height="3"/><rect x="373" y="201" width="3" height="3"/><rect x="379" y="201" width="3" height="3"/><rect x="385" y="201" width="18" height="3"/><rect x="406" y="201" width="6" height="3"/><rect x="370" y="204" width="9" height="3"/><rect x="382" y="204" width="9" height="3"/><rect x="394" y="204" width="6" height="3"/><rect x="403" y="204" width="3" height="3"/><rect x="409" y="204" width="3" height="3"/><rect x="379" y="207" width="3" height="3"/><rect x="388" y="207" width="18" height="3"/><rect x="373" y="210" width="15" height="3"/><rect x="391" y="210" width="15" height="3"/><rect x="409" y="210" width="3" height="3"/><rect x="373" y="213" width="6" height="3"/><rect x="382" y="213" width="9" height="3"/><rect x="394" y="213" width="9" height="3"/><rect x="373" y="216" width="3" height="3"/><rect x="379" y="216" width="9" height="3"/><rect x="394" y="216" width="12" height="3"/><rect x="379" y="219" width="9" height="3"/><rect x="391" y="219" width="15" height="3"/><rect x="376" y="222" width="9" height="3"/><rect x="388" y="222" width="6" height="3"/><rect x="397" y="222" width="6" height="3"/><rect x="373" y="225" width="12" height="3"/><rect x="388" y="225" width="9" height="3"/><rect x="400" y="225" width="3" height="3"/><rect x="367" y="228" width="9" height="3"/><rect x="385" y="228" width="12" height="3"/><rect x="400" y="228" width="3" height="3"/><rect x="370" y="231" width="3" height="3"/><rect x="376" y="231" width="3" height="3"/><rect x="382" y="231" width="12" height="3"/><rect x="376" y="234" width="3" height="3"/><rect x="388" y="234" width="9" height="3"/><rect x="364" y="237" width="3" height="3"/><rect x="370" y="237" width="6" height="3"/><rect x="382" y="237" width="6" height="3"/><rect x="391" y="237" width="3" height="3"/><rect x="379" y="240" width="6" height="3"/><rect x="388" y="243" width="3" height="3"/></g>
<path d="M303.20,74.40 L518.30,74.80 L518.90,248.00 L303.20,247.50 Z" stroke="#1e1e1e" stroke-width="1.7" fill="none" stroke-linejoin="miter"/>
<text x="301.60" y="257.50" font-family="Liberation Mono" font-weight="bold" font-size="6" text-anchor="start" fill="#000" textLength="8.9" lengthAdjust="spacingAndGlyphs" stroke="#000" stroke-width="0.45">.1</text>
<text x="357.52" y="257.50" font-family="Liberation Mono" font-weight="bold" font-size="6" text-anchor="start" fill="#000" textLength="3.8" lengthAdjust="spacingAndGlyphs" stroke="#000" stroke-width="0.45">1</text>
<text x="405.55" y="257.50" font-family="Liberation Mono" font-weight="bold" font-size="6" text-anchor="start" fill="#000" textLength="9.2" lengthAdjust="spacingAndGlyphs" stroke="#000" stroke-width="0.45">10</text>
<text x="454.98" y="257.50" font-family="Liberation Mono" font-weight="bold" font-size="6" text-anchor="start" fill="#000" textLength="13.8" lengthAdjust="spacingAndGlyphs" stroke="#000" stroke-width="0.45">100</text>
<text x="496.20" y="257.50" font-family="Liberation Mono" font-weight="bold" font-size="6" text-anchor="start" fill="#000" textLength="21.5" lengthAdjust="spacingAndGlyphs" stroke="#000" stroke-width="0.45">1000</text>
<text x="398.85" y="263.30" font-family="Liberation Mono" font-weight="bold" font-size="5.8" text-anchor="start" fill="#000" textLength="21.2" lengthAdjust="spacingAndGlyphs" stroke="#000" stroke-width="0.45">CD38</text>
<text x="296.60" y="243.80" font-family="Liberation Mono" font-weight="bold" font-size="6.4" text-anchor="end" fill="#000" textLength="6.9" lengthAdjust="spacingAndGlyphs" transform="rotate(-90 296.60 243.80)" stroke="#000" stroke-width="0.45">.1</text>
<text x="296.60" y="200.98" font-family="Liberation Mono" font-weight="bold" font-size="6.4" text-anchor="end" fill="#000" textLength="3.6" lengthAdjust="spacingAndGlyphs" transform="rotate(-90 296.60 200.98)" stroke="#000" stroke-width="0.45">1</text>
<text x="296.60" y="157.85" font-family="Liberation Mono" font-weight="bold" font-size="6.4" text-anchor="end" fill="#000" textLength="6.8" lengthAdjust="spacingAndGlyphs" transform="rotate(-90 296.60 157.85)" stroke="#000" stroke-width="0.45">10</text>
<text x="296.60" y="114.02" font-family="Liberation Mono" font-weight="bold" font-size="6.4" text-anchor="end" fill="#000" textLength="12.4" lengthAdjust="spacingAndGlyphs" transform="rotate(-90 296.60 114.02)" stroke="#000" stroke-width="0.45">100</text>
<text x="296.60" y="74.80" font-family="Liberation Mono" font-weight="bold" font-size="6.4" text-anchor="end" fill="#000" textLength="16.7" lengthAdjust="spacingAndGlyphs" transform="rotate(-90 296.60 74.80)" stroke="#000" stroke-width="0.45">1000</text>
<text x="288.40" y="169.35" font-family="Liberation Sans" font-weight="bold" font-size="7.4" text-anchor="start" fill="#000" textLength="16.8" lengthAdjust="spacingAndGlyphs" transform="rotate(-90 288.40 169.35)" stroke="#000" stroke-width="0.25">CD45</text>
<text x="303.20" y="66.50" font-family="Liberation Mono" font-weight="bold" font-size="5.5" text-anchor="start" fill="#222" textLength="19.5" lengthAdjust="spacingAndGlyphs" stroke="#222" stroke-width="0.15">G1 A</text>
<text x="357.60" y="83.70" font-family="Liberation Mono" font-weight="bold" font-size="6" text-anchor="start" fill="#000" textLength="3.8" lengthAdjust="spacingAndGlyphs" stroke="#000" stroke-width="0.45">1</text>
<text x="511.90" y="83.90" font-family="Liberation Mono" font-weight="bold" font-size="6" text-anchor="start" fill="#000" textLength="4.6" lengthAdjust="spacingAndGlyphs" stroke="#000" stroke-width="0.45">2</text>
<text x="357.60" y="197.30" font-family="Liberation Mono" font-weight="bold" font-size="6" text-anchor="start" fill="#000" textLength="3.9" lengthAdjust="spacingAndGlyphs" stroke="#000" stroke-width="0.45">3</text>
<text x="511.60" y="197.10" font-family="Liberation Mono" font-weight="bold" font-size="6" text-anchor="start" fill="#000" textLength="4.4" lengthAdjust="spacingAndGlyphs" stroke="#000" stroke-width="0.45">4</text>
<text x="371.50" y="183.50" font-family="Liberation Mono" font-weight="bold" font-size="5.6" text-anchor="start" fill="#000" textLength="4.2" lengthAdjust="spacingAndGlyphs" stroke="#000" stroke-width="0.45">B</text>
<text x="416.90" y="183.50" font-family="Liberation Mono" font-weight="bold" font-size="5.6" text-anchor="start" fill="#000" textLength="5.0" lengthAdjust="spacingAndGlyphs" stroke="#000" stroke-width="0.45">D</text>
<text x="397.00" y="243.70" font-family="Liberation Mono" font-weight="bold" font-size="5.6" text-anchor="start" fill="#000" textLength="3.9" lengthAdjust="spacingAndGlyphs" stroke="#000" stroke-width="0.45">E</text>
<text x="454.40" y="116.90" font-family="Liberation Serif" font-weight="normal" font-size="14" text-anchor="start" fill="#111" textLength="27.7" lengthAdjust="spacingAndGlyphs">3.2%</text>
<path d="M49.00,452.30v3.5 M49.00,452.30h-3.5 M65.47,452.30v3.0 M49.00,439.90h-3.0 M75.10,452.30v3.0 M49.00,432.64h-3.0 M81.93,452.30v3.0 M49.00,427.50h-3.0 M87.23,452.30v3.0 M49.00,423.50h-3.0 M91.56,452.30v3.0 M49.00,420.24h-3.0 M95.23,452.30v3.0 M49.00,417.48h-3.0 M98.40,452.30v3.0 M49.00,415.09h-3.0 M101.20,452.30v3.0 M49.00,412.99h-3.0 M103.70,452.30v3.5 M49.00,411.10h-3.5 M120.17,452.30v3.0 M49.00,398.70h-3.0 M129.80,452.30v3.0 M49.00,391.44h-3.0 M136.63,452.30v3.0 M49.00,386.30h-3.0 M141.93,452.30v3.0 M49.00,382.30h-3.0 M146.26,452.30v3.0 M49.00,379.04h-3.0 M149.93,452.30v3.0 M49.00,376.28h-3.0 M153.10,452.30v3.0 M49.00,373.89h-3.0 M155.90,452.30v3.0 M49.00,371.79h-3.0 M158.40,452.30v3.5 M49.00,369.90h-3.5 M174.87,452.30v3.0 M49.00,357.50h-3.0 M184.50,452.30v3.0 M49.00,350.24h-3.0 M191.33,452.30v3.0 M49.00,345.10h-3.0 M196.63,452.30v3.0 M49.00,341.10h-3.0 M200.96,452.30v3.0 M49.00,337.84h-3.0 M204.63,452.30v3.0 M49.00,335.08h-3.0 M207.80,452.30v3.0 M49.00,332.69h-3.0 M210.60,452.30v3.0 M49.00,330.59h-3.0 M213.10,452.30v3.5 M49.00,328.70h-3.5 M229.57,452.30v3.0 M49.00,316.30h-3.0 M239.20,452.30v3.0 M49.00,309.04h-3.0 M246.03,452.30v3.0 M49.00,303.90h-3.0 M251.33,452.30v3.0 M49.00,299.90h-3.0 M255.66,452.30v3.0 M49.00,296.64h-3.0 M259.33,452.30v3.0 M49.00,293.88h-3.0 M262.50,452.30v3.0 M49.00,291.49h-3.0 M265.30,452.30v3.0 M49.00,289.39h-3.0 M267.80,452.30v3.5 M49.00,287.50h-3.5" stroke="#222" stroke-width="1.3" fill="none"/>
<path d="M138.10,334.60 L178.40,334.60 C185.03,334.60 190.40,339.97 190.40,346.60 L190.40,381.30 C190.40,387.93 185.03,393.30 178.40,393.30 L121.10,393.30 C116.68,393.30 113.10,389.72 113.10,385.30 L113.10,359.60 C113.10,345.79 124.29,334.60 138.10,334.60Z" stroke="#1a1a1a" stroke-width="1.2" fill="none"/>
<path d="M138.50,400.00 L168.70,400.00 C176.98,400.00 183.70,406.72 183.70,415.00 L183.70,437.40 C183.70,444.03 178.33,449.40 171.70,449.40 L122.50,449.40 C116.98,449.40 112.50,444.92 112.50,439.40 L112.50,426.00 C112.50,411.64 124.14,400.00 138.50,400.00Z" stroke="#1a1a1a" stroke-width="1.2" fill="none"/>
<path d="M110.00,287.50V452.30" stroke="#222" stroke-width="2" fill="none"/>
<path d="M49.00,395.30H267.80" stroke="#444" stroke-width="1.5" fill="none"/>
<g fill="#8a8a8a" shape-rendering="crispEdges"><rect x="124" y="390" width="1" height="3"/><rect x="126" y="390" width="1" height="3"/><rect x="136" y="390" width="2" height="3"/><rect x="140" y="390" width="1" height="3"/><rect x="139" y="391" width="3" height="1"/><rect x="142" y="390" width="1" height="3"/><rect x="144" y="390" width="1" height="3"/><rect x="145" y="390" width="2" height="3"/><rect x="148" y="390" width="1" height="3"/><rect x="150" y="390" width="1" height="3"/><rect x="157" y="390" width="1" height="3"/><rect x="159" y="390" width="1" height="3"/><rect x="160" y="390" width="2" height="3"/><rect x="130" y="393" width="2" height="3"/><rect x="133" y="393" width="1" height="3"/><rect x="135" y="393" width="1" height="3"/><rect x="136" y="393" width="2" height="3"/><rect x="139" y="393" width="1" height="3"/><rect x="141" y="393" width="1" height="3"/><rect x="142" y="393" width="1" height="3"/><rect x="144" y="393" width="1" height="3"/><rect x="148" y="393" width="1" height="3"/><rect x="150" y="393" width="1" height="3"/><rect x="152" y="393" width="1" height="3"/><rect x="151" y="394" width="3" height="1"/><rect x="155" y="393" width="1" height="3"/><rect x="154" y="394" width="3" height="1"/><rect x="157" y="393" width="1" height="3"/><rect x="159" y="393" width="1" height="3"/><rect x="160" y="393" width="1" height="3"/><rect x="162" y="393" width="1" height="3"/><rect x="121" y="396" width="1" height="3"/><rect x="123" y="396" width="1" height="3"/><rect x="142" y="396" width="1" height="3"/><rect x="144" y="396" width="1" height="3"/><rect x="109" y="399" width="2" height="3"/><rect x="112" y="399" width="1" height="3"/><rect x="114" y="399" width="1" height="3"/><rect x="121" y="399" width="2" height="3"/><rect x="131" y="399" width="1" height="3"/><rect x="130" y="400" width="3" height="1"/><rect x="133" y="399" width="2" height="3"/><rect x="145" y="399" width="1" height="3"/><rect x="147" y="399" width="1" height="3"/><rect x="148" y="399" width="2" height="3"/><rect x="160" y="399" width="2" height="3"/><rect x="106" y="402" width="2" height="3"/><rect x="110" y="402" width="1" height="3"/><rect x="109" y="403" width="3" height="1"/><rect x="119" y="402" width="1" height="3"/><rect x="118" y="403" width="3" height="1"/><rect x="121" y="402" width="1" height="3"/><rect x="123" y="402" width="1" height="3"/><rect x="124" y="402" width="2" height="3"/><rect x="131" y="402" width="1" height="3"/><rect x="130" y="403" width="3" height="1"/><rect x="133" y="402" width="2" height="3"/><rect x="136" y="402" width="2" height="3"/><rect x="139" y="402" width="1" height="3"/><rect x="141" y="402" width="1" height="3"/><rect x="142" y="402" width="1" height="3"/><rect x="144" y="402" width="1" height="3"/><rect x="157" y="402" width="2" height="3"/><rect x="161" y="402" width="1" height="3"/><rect x="160" y="403" width="3" height="1"/><rect x="166" y="402" width="1" height="3"/><rect x="168" y="402" width="1" height="3"/><rect x="169" y="402" width="2" height="3"/><rect x="109" y="405" width="1" height="3"/><rect x="111" y="405" width="1" height="3"/><rect x="112" y="405" width="1" height="3"/><rect x="114" y="405" width="1" height="3"/><rect x="127" y="405" width="1" height="3"/><rect x="129" y="405" width="1" height="3"/><rect x="130" y="405" width="2" height="3"/><rect x="133" y="405" width="2" height="3"/><rect x="145" y="405" width="1" height="3"/><rect x="147" y="405" width="1" height="3"/><rect x="154" y="405" width="2" height="3"/><rect x="166" y="405" width="2" height="3"/><rect x="175" y="405" width="1" height="3"/><rect x="177" y="405" width="1" height="3"/><rect x="109" y="408" width="2" height="3"/><rect x="116" y="408" width="1" height="3"/><rect x="115" y="409" width="3" height="1"/><rect x="118" y="408" width="2" height="3"/><rect x="121" y="408" width="1" height="3"/><rect x="123" y="408" width="1" height="3"/><rect x="127" y="408" width="2" height="3"/><rect x="133" y="408" width="2" height="3"/><rect x="136" y="408" width="1" height="3"/><rect x="138" y="408" width="1" height="3"/><rect x="139" y="408" width="2" height="3"/><rect x="148" y="408" width="1" height="3"/><rect x="150" y="408" width="1" height="3"/><rect x="151" y="408" width="2" height="3"/><rect x="166" y="408" width="1" height="3"/><rect x="168" y="408" width="1" height="3"/><rect x="119" y="411" width="1" height="3"/><rect x="118" y="412" width="3" height="1"/><rect x="125" y="411" width="1" height="3"/><rect x="124" y="412" width="3" height="1"/><rect x="127" y="411" width="1" height="3"/><rect x="129" y="411" width="1" height="3"/><rect x="133" y="411" width="1" height="3"/><rect x="135" y="411" width="1" height="3"/><rect x="151" y="411" width="1" height="3"/><rect x="153" y="411" width="1" height="3"/><rect x="154" y="411" width="1" height="3"/><rect x="156" y="411" width="1" height="3"/><rect x="158" y="411" width="1" height="3"/><rect x="157" y="412" width="3" height="1"/><rect x="116" y="414" width="1" height="3"/><rect x="115" y="415" width="3" height="1"/><rect x="118" y="414" width="2" height="3"/><rect x="121" y="414" width="2" height="3"/><rect x="130" y="414" width="2" height="3"/><rect x="143" y="414" width="1" height="3"/><rect x="142" y="415" width="3" height="1"/><rect x="145" y="414" width="1" height="3"/><rect x="147" y="414" width="1" height="3"/><rect x="109" y="417" width="1" height="3"/><rect x="111" y="417" width="1" height="3"/><rect x="112" y="417" width="1" height="3"/><rect x="114" y="417" width="1" height="3"/><rect x="118" y="417" width="1" height="3"/><rect x="120" y="417" width="1" height="3"/><rect x="133" y="417" width="1" height="3"/><rect x="135" y="417" width="1" height="3"/><rect x="145" y="417" width="1" height="3"/><rect x="147" y="417" width="1" height="3"/><rect x="158" y="417" width="1" height="3"/><rect x="157" y="418" width="3" height="1"/><rect x="169" y="417" width="1" height="3"/><rect x="171" y="417" width="1" height="3"/><rect x="136" y="420" width="2" height="3"/><rect x="128" y="423" width="1" height="3"/><rect x="127" y="424" width="3" height="1"/><rect x="142" y="423" width="1" height="3"/><rect x="144" y="423" width="1" height="3"/><rect x="167" y="423" width="1" height="3"/><rect x="166" y="424" width="3" height="1"/><rect x="139" y="426" width="2" height="3"/><rect x="169" y="426" width="2" height="3"/><rect x="103" y="429" width="2" height="3"/><rect x="121" y="429" width="2" height="3"/><rect x="149" y="429" width="1" height="3"/><rect x="148" y="430" width="3" height="1"/><rect x="155" y="429" width="1" height="3"/><rect x="154" y="430" width="3" height="1"/><rect x="158" y="429" width="1" height="3"/><rect x="157" y="430" width="3" height="1"/><rect x="175" y="429" width="1" height="3"/><rect x="177" y="429" width="1" height="3"/><rect x="85" y="432" width="1" height="3"/><rect x="87" y="432" width="1" height="3"/><rect x="115" y="432" width="1" height="3"/><rect x="117" y="432" width="1" height="3"/><rect x="173" y="432" width="1" height="3"/><rect x="172" y="433" width="3" height="1"/><rect x="127" y="435" width="1" height="3"/><rect x="129" y="435" width="1" height="3"/><rect x="145" y="435" width="1" height="3"/><rect x="147" y="435" width="1" height="3"/><rect x="148" y="435" width="2" height="3"/><rect x="161" y="435" width="1" height="3"/><rect x="160" y="436" width="3" height="1"/><rect x="164" y="435" width="1" height="3"/><rect x="163" y="436" width="3" height="1"/><rect x="127" y="438" width="1" height="3"/><rect x="129" y="438" width="1" height="3"/><rect x="139" y="438" width="2" height="3"/><rect x="160" y="438" width="2" height="3"/><rect x="169" y="438" width="1" height="3"/><rect x="171" y="438" width="1" height="3"/><rect x="116" y="441" width="1" height="3"/><rect x="115" y="442" width="3" height="1"/><rect x="160" y="441" width="1" height="3"/><rect x="162" y="441" width="1" height="3"/><rect x="166" y="441" width="2" height="3"/><rect x="127" y="444" width="2" height="3"/><rect x="163" y="447" width="1" height="3"/><rect x="165" y="447" width="1" height="3"/><rect x="166" y="447" width="1" height="3"/><rect x="168" y="447" width="1" height="3"/></g><g fill="#888" shape-rendering="crispEdges"></g><g fill="#111" shape-rendering="crispEdges"><rect x="133" y="396" width="3" height="3"/><rect x="139" y="399" width="6" height="3"/><rect x="151" y="402" width="3" height="3"/><rect x="145" y="408" width="3" height="3"/></g>
<g fill="#111"><rect x="140.0" y="399.7" width="2.8" height="2.8"/><rect x="137.1" y="399.7" width="2.8" height="2.8"/><rect x="142.6" y="399.7" width="2.8" height="2.8"/><rect x="151.0" y="400.9" width="2.8" height="2.8"/><rect x="128.5" y="404.9" width="2.8" height="2.8"/><rect x="130.8" y="404.9" width="2.8" height="2.8"/><rect x="130.8" y="407.8" width="2.8" height="2.8"/><rect x="137.7" y="405.5" width="2.8" height="2.8"/><rect x="148.7" y="404.9" width="2.8" height="2.8"/><rect x="146.1" y="404.9" width="2.8" height="2.8"/><rect x="123.9" y="407.8" width="2.8" height="2.8"/><rect x="124.5" y="413.6" width="2.8" height="2.8"/><rect x="124.5" y="416.6" width="2.8" height="2.8"/><rect x="114.1" y="413.4" width="2.8" height="2.8"/><rect x="124.5" y="421.1" width="2.8" height="2.8"/><rect x="141.2" y="418.2" width="2.8" height="2.8"/><rect x="148.1" y="429.2" width="2.8" height="2.8"/><rect x="150.5" y="387.1" width="2.8" height="2.8"/><rect x="144.8" y="444.4" width="2.8" height="2.8"/><rect x="171.3" y="374.0" width="2.8" height="2.8"/></g>
<g fill="#8a8a8a"><rect x="79.7" y="410.7" width="2.6" height="2.6"/><rect x="93.7" y="420.7" width="2.6" height="2.6"/><rect x="101.7" y="415.7" width="2.6" height="2.6"/><rect x="94.7" y="430.7" width="2.6" height="2.6"/><rect x="105.7" y="430.7" width="2.6" height="2.6"/><rect x="106.7" y="423.7" width="2.6" height="2.6"/><rect x="97.7" y="426.7" width="2.6" height="2.6"/><rect x="167.7" y="363.7" width="2.6" height="2.6"/><rect x="175.2" y="366.4" width="2.6" height="2.6"/><rect x="164.7" y="376.7" width="2.6" height="2.6"/><rect x="155.4" y="384.7" width="2.6" height="2.6"/><rect x="161.2" y="384.7" width="2.6" height="2.6"/></g>
<path d="M48.80,287.60 L267.80,287.40 L269.00,451.20 L49.70,452.30 Z" stroke="#1e1e1e" stroke-width="1.7" fill="none" stroke-linejoin="miter"/>
<text x="47.40" y="462.00" font-family="Liberation Mono" font-weight="bold" font-size="6" text-anchor="start" fill="#000" textLength="8.9" lengthAdjust="spacingAndGlyphs" stroke="#000" stroke-width="0.45">.1</text>
<text x="104.20" y="462.00" font-family="Liberation Mono" font-weight="bold" font-size="6" text-anchor="start" fill="#000" textLength="3.8" lengthAdjust="spacingAndGlyphs" stroke="#000" stroke-width="0.45">1</text>
<text x="153.10" y="462.00" font-family="Liberation Mono" font-weight="bold" font-size="6" text-anchor="start" fill="#000" textLength="9.2" lengthAdjust="spacingAndGlyphs" stroke="#000" stroke-width="0.45">10</text>
<text x="203.40" y="462.00" font-family="Liberation Mono" font-weight="bold" font-size="6" text-anchor="start" fill="#000" textLength="13.8" lengthAdjust="spacingAndGlyphs" stroke="#000" stroke-width="0.45">100</text>
<text x="245.50" y="462.00" font-family="Liberation Mono" font-weight="bold" font-size="6" text-anchor="start" fill="#000" textLength="21.5" lengthAdjust="spacingAndGlyphs" stroke="#000" stroke-width="0.45">1000</text>
<text x="146.40" y="467.80" font-family="Liberation Mono" font-weight="bold" font-size="5.8" text-anchor="start" fill="#000" textLength="21.2" lengthAdjust="spacingAndGlyphs" stroke="#000" stroke-width="0.45">CD38</text>
<text x="42.40" y="448.30" font-family="Liberation Mono" font-weight="bold" font-size="6.4" text-anchor="end" fill="#000" textLength="6.9" lengthAdjust="spacingAndGlyphs" transform="rotate(-90 42.40 448.30)" stroke="#000" stroke-width="0.45">.1</text>
<text x="42.40" y="407.60" font-family="Liberation Mono" font-weight="bold" font-size="6.4" text-anchor="end" fill="#000" textLength="3.6" lengthAdjust="spacingAndGlyphs" transform="rotate(-90 42.40 407.60)" stroke="#000" stroke-width="0.45">1</text>
<text x="42.40" y="366.60" font-family="Liberation Mono" font-weight="bold" font-size="6.4" text-anchor="end" fill="#000" textLength="6.8" lengthAdjust="spacingAndGlyphs" transform="rotate(-90 42.40 366.60)" stroke="#000" stroke-width="0.45">10</text>
<text x="42.40" y="324.90" font-family="Liberation Mono" font-weight="bold" font-size="6.4" text-anchor="end" fill="#000" textLength="12.4" lengthAdjust="spacingAndGlyphs" transform="rotate(-90 42.40 324.90)" stroke="#000" stroke-width="0.45">100</text>
<text x="42.40" y="287.80" font-family="Liberation Mono" font-weight="bold" font-size="6.4" text-anchor="end" fill="#000" textLength="16.7" lengthAdjust="spacingAndGlyphs" transform="rotate(-90 42.40 287.80)" stroke="#000" stroke-width="0.45">1000</text>
<text x="34.20" y="378.10" font-family="Liberation Sans" font-weight="bold" font-size="7.4" text-anchor="start" fill="#000" textLength="16.8" lengthAdjust="spacingAndGlyphs" transform="rotate(-90 34.20 378.10)" stroke="#000" stroke-width="0.25">CD45</text>
<text x="49.00" y="279.50" font-family="Liberation Mono" font-weight="bold" font-size="5.5" text-anchor="start" fill="#222" textLength="19.5" lengthAdjust="spacingAndGlyphs" stroke="#222" stroke-width="0.15">G1 A</text>
<text x="103.80" y="296.70" font-family="Liberation Mono" font-weight="bold" font-size="6" text-anchor="start" fill="#000" textLength="3.8" lengthAdjust="spacingAndGlyphs" stroke="#000" stroke-width="0.45">1</text>
<text x="261.20" y="296.90" font-family="Liberation Mono" font-weight="bold" font-size="6" text-anchor="start" fill="#000" textLength="4.6" lengthAdjust="spacingAndGlyphs" stroke="#000" stroke-width="0.45">2</text>
<text x="103.80" y="404.50" font-family="Liberation Mono" font-weight="bold" font-size="6" text-anchor="start" fill="#000" textLength="3.9" lengthAdjust="spacingAndGlyphs" stroke="#000" stroke-width="0.45">3</text>
<text x="260.90" y="404.30" font-family="Liberation Mono" font-weight="bold" font-size="6" text-anchor="start" fill="#000" textLength="4.4" lengthAdjust="spacingAndGlyphs" stroke="#000" stroke-width="0.45">4</text>
<text x="117.30" y="390.80" font-family="Liberation Mono" font-weight="bold" font-size="5.6" text-anchor="start" fill="#000" textLength="4.2" lengthAdjust="spacingAndGlyphs" stroke="#000" stroke-width="0.45">B</text>
<text x="165.40" y="390.80" font-family="Liberation Mono" font-weight="bold" font-size="5.6" text-anchor="start" fill="#000" textLength="5.0" lengthAdjust="spacingAndGlyphs" stroke="#000" stroke-width="0.45">D</text>
<text x="145.20" y="447.50" font-family="Liberation Mono" font-weight="bold" font-size="5.6" text-anchor="start" fill="#000" textLength="3.9" lengthAdjust="spacingAndGlyphs" stroke="#000" stroke-width="0.45">E</text>
<text x="197.70" y="331.10" font-family="Liberation Serif" font-weight="normal" font-size="14" text-anchor="start" fill="#111" textLength="35.2" lengthAdjust="spacingAndGlyphs">10.6%</text>
<path d="M297.30,455.80v3.5 M297.30,455.80h-3.5 M313.72,455.80v3.0 M297.30,443.10h-3.0 M323.33,455.80v3.0 M297.30,435.67h-3.0 M330.14,455.80v3.0 M297.30,430.39h-3.0 M335.43,455.80v3.0 M297.30,426.30h-3.0 M339.75,455.80v3.0 M297.30,422.96h-3.0 M343.40,455.80v3.0 M297.30,420.14h-3.0 M346.56,455.80v3.0 M297.30,417.69h-3.0 M349.35,455.80v3.0 M297.30,415.53h-3.0 M351.85,455.80v3.5 M297.30,413.60h-3.5 M368.27,455.80v3.0 M297.30,400.90h-3.0 M377.88,455.80v3.0 M297.30,393.47h-3.0 M384.69,455.80v3.0 M297.30,388.19h-3.0 M389.98,455.80v3.0 M297.30,384.10h-3.0 M394.30,455.80v3.0 M297.30,380.76h-3.0 M397.95,455.80v3.0 M297.30,377.94h-3.0 M401.11,455.80v3.0 M297.30,375.49h-3.0 M403.90,455.80v3.0 M297.30,373.33h-3.0 M406.40,455.80v3.5 M297.30,371.40h-3.5 M422.82,455.80v3.0 M297.30,358.70h-3.0 M432.43,455.80v3.0 M297.30,351.27h-3.0 M439.24,455.80v3.0 M297.30,345.99h-3.0 M444.53,455.80v3.0 M297.30,341.90h-3.0 M448.85,455.80v3.0 M297.30,338.56h-3.0 M452.50,455.80v3.0 M297.30,335.74h-3.0 M455.66,455.80v3.0 M297.30,333.29h-3.0 M458.45,455.80v3.0 M297.30,331.13h-3.0 M460.95,455.80v3.5 M297.30,329.20h-3.5 M477.37,455.80v3.0 M297.30,316.50h-3.0 M486.98,455.80v3.0 M297.30,309.07h-3.0 M493.79,455.80v3.0 M297.30,303.79h-3.0 M499.08,455.80v3.0 M297.30,299.70h-3.0 M503.40,455.80v3.0 M297.30,296.36h-3.0 M507.05,455.80v3.0 M297.30,293.54h-3.0 M510.21,455.80v3.0 M297.30,291.09h-3.0 M513.00,455.80v3.0 M297.30,288.93h-3.0 M515.50,455.80v3.5 M297.30,287.00h-3.5" stroke="#222" stroke-width="1.3" fill="none"/>
<path d="M391.10,336.00 L424.50,336.00 C431.68,336.00 437.50,341.82 437.50,349.00 L437.50,381.30 C437.50,389.58 430.78,396.30 422.50,396.30 L371.10,396.30 C365.58,396.30 361.10,391.82 361.10,386.30 L361.10,366.00 C361.10,349.43 374.53,336.00 391.10,336.00Z" stroke="#1a1a1a" stroke-width="1.2" fill="none"/>
<path d="M378.50,402.00 L405.60,402.00 C419.41,402.00 430.60,413.19 430.60,427.00 L430.60,440.20 C430.60,447.93 424.33,454.20 416.60,454.20 L375.50,454.20 C368.87,454.20 363.50,448.83 363.50,442.20 L363.50,417.00 C363.50,408.72 370.22,402.00 378.50,402.00Z" stroke="#1a1a1a" stroke-width="1.2" fill="none"/>
<path d="M365.50,287.00V455.80" stroke="#222" stroke-width="2" fill="none"/>
<path d="M297.30,399.60H515.50" stroke="#444" stroke-width="1.5" fill="none"/>
<g fill="#8a8a8a" shape-rendering="crispEdges"><rect x="376" y="305" width="1" height="3"/><rect x="378" y="305" width="1" height="3"/><rect x="407" y="338" width="1" height="3"/><rect x="406" y="339" width="3" height="1"/><rect x="415" y="341" width="1" height="3"/><rect x="417" y="341" width="1" height="3"/><rect x="389" y="344" width="1" height="3"/><rect x="388" y="345" width="3" height="1"/><rect x="400" y="344" width="1" height="3"/><rect x="402" y="344" width="1" height="3"/><rect x="343" y="347" width="1" height="3"/><rect x="345" y="347" width="1" height="3"/><rect x="382" y="347" width="2" height="3"/><rect x="373" y="350" width="1" height="3"/><rect x="375" y="350" width="1" height="3"/><rect x="382" y="350" width="1" height="3"/><rect x="384" y="350" width="1" height="3"/><rect x="391" y="350" width="2" height="3"/><rect x="368" y="353" width="1" height="3"/><rect x="367" y="354" width="3" height="1"/><rect x="373" y="353" width="2" height="3"/><rect x="376" y="353" width="2" height="3"/><rect x="382" y="353" width="1" height="3"/><rect x="384" y="353" width="1" height="3"/><rect x="391" y="353" width="2" height="3"/><rect x="398" y="353" width="1" height="3"/><rect x="397" y="354" width="3" height="1"/><rect x="410" y="353" width="1" height="3"/><rect x="409" y="354" width="3" height="1"/><rect x="421" y="353" width="2" height="3"/><rect x="364" y="356" width="1" height="3"/><rect x="366" y="356" width="1" height="3"/><rect x="379" y="356" width="1" height="3"/><rect x="381" y="356" width="1" height="3"/><rect x="383" y="356" width="1" height="3"/><rect x="382" y="357" width="3" height="1"/><rect x="388" y="356" width="1" height="3"/><rect x="390" y="356" width="1" height="3"/><rect x="391" y="356" width="1" height="3"/><rect x="393" y="356" width="1" height="3"/><rect x="395" y="356" width="1" height="3"/><rect x="394" y="357" width="3" height="1"/><rect x="416" y="356" width="1" height="3"/><rect x="415" y="357" width="3" height="1"/><rect x="379" y="359" width="2" height="3"/><rect x="388" y="359" width="2" height="3"/><rect x="398" y="359" width="1" height="3"/><rect x="397" y="360" width="3" height="1"/><rect x="400" y="359" width="1" height="3"/><rect x="402" y="359" width="1" height="3"/><rect x="416" y="359" width="1" height="3"/><rect x="415" y="360" width="3" height="1"/><rect x="427" y="359" width="1" height="3"/><rect x="429" y="359" width="1" height="3"/><rect x="373" y="362" width="1" height="3"/><rect x="375" y="362" width="1" height="3"/><rect x="376" y="362" width="1" height="3"/><rect x="378" y="362" width="1" height="3"/><rect x="379" y="362" width="2" height="3"/><rect x="382" y="362" width="1" height="3"/><rect x="384" y="362" width="1" height="3"/><rect x="388" y="362" width="1" height="3"/><rect x="390" y="362" width="1" height="3"/><rect x="392" y="362" width="1" height="3"/><rect x="391" y="363" width="3" height="1"/><rect x="398" y="362" width="1" height="3"/><rect x="397" y="363" width="3" height="1"/><rect x="407" y="362" width="1" height="3"/><rect x="406" y="363" width="3" height="1"/><rect x="409" y="362" width="1" height="3"/><rect x="411" y="362" width="1" height="3"/><rect x="370" y="365" width="1" height="3"/><rect x="372" y="365" width="1" height="3"/><rect x="385" y="365" width="1" height="3"/><rect x="387" y="365" width="1" height="3"/><rect x="391" y="365" width="2" height="3"/><rect x="395" y="365" width="1" height="3"/><rect x="394" y="366" width="3" height="1"/><rect x="397" y="365" width="1" height="3"/><rect x="399" y="365" width="1" height="3"/><rect x="406" y="365" width="1" height="3"/><rect x="408" y="365" width="1" height="3"/><rect x="370" y="368" width="1" height="3"/><rect x="372" y="368" width="1" height="3"/><rect x="395" y="368" width="1" height="3"/><rect x="394" y="369" width="3" height="1"/><rect x="397" y="368" width="1" height="3"/><rect x="399" y="368" width="1" height="3"/><rect x="430" y="368" width="1" height="3"/><rect x="432" y="368" width="1" height="3"/><rect x="440" y="368" width="1" height="3"/><rect x="439" y="369" width="3" height="1"/><rect x="353" y="371" width="1" height="3"/><rect x="352" y="372" width="3" height="1"/><rect x="358" y="371" width="1" height="3"/><rect x="360" y="371" width="1" height="3"/><rect x="361" y="371" width="2" height="3"/><rect x="367" y="371" width="1" height="3"/><rect x="369" y="371" width="1" height="3"/><rect x="371" y="371" width="1" height="3"/><rect x="370" y="372" width="3" height="1"/><rect x="376" y="371" width="1" height="3"/><rect x="378" y="371" width="1" height="3"/><rect x="392" y="371" width="1" height="3"/><rect x="391" y="372" width="3" height="1"/><rect x="394" y="371" width="1" height="3"/><rect x="396" y="371" width="1" height="3"/><rect x="403" y="371" width="2" height="3"/><rect x="409" y="371" width="2" height="3"/><rect x="419" y="371" width="1" height="3"/><rect x="418" y="372" width="3" height="1"/><rect x="421" y="371" width="1" height="3"/><rect x="423" y="371" width="1" height="3"/><rect x="350" y="374" width="1" height="3"/><rect x="349" y="375" width="3" height="1"/><rect x="374" y="374" width="1" height="3"/><rect x="373" y="375" width="3" height="1"/><rect x="379" y="374" width="1" height="3"/><rect x="381" y="374" width="1" height="3"/><rect x="385" y="374" width="2" height="3"/><rect x="392" y="374" width="1" height="3"/><rect x="391" y="375" width="3" height="1"/><rect x="394" y="374" width="1" height="3"/><rect x="396" y="374" width="1" height="3"/><rect x="418" y="374" width="2" height="3"/><rect x="350" y="377" width="1" height="3"/><rect x="349" y="378" width="3" height="1"/><rect x="385" y="377" width="2" height="3"/><rect x="388" y="377" width="1" height="3"/><rect x="390" y="377" width="1" height="3"/><rect x="394" y="377" width="2" height="3"/><rect x="403" y="377" width="1" height="3"/><rect x="405" y="377" width="1" height="3"/><rect x="418" y="377" width="2" height="3"/><rect x="356" y="380" width="1" height="3"/><rect x="355" y="381" width="3" height="1"/><rect x="358" y="380" width="2" height="3"/><rect x="361" y="380" width="1" height="3"/><rect x="363" y="380" width="1" height="3"/><rect x="370" y="380" width="2" height="3"/><rect x="379" y="380" width="1" height="3"/><rect x="381" y="380" width="1" height="3"/><rect x="386" y="380" width="1" height="3"/><rect x="385" y="381" width="3" height="1"/><rect x="388" y="380" width="1" height="3"/><rect x="390" y="380" width="1" height="3"/><rect x="394" y="380" width="1" height="3"/><rect x="396" y="380" width="1" height="3"/><rect x="406" y="380" width="2" height="3"/><rect x="346" y="383" width="1" height="3"/><rect x="348" y="383" width="1" height="3"/><rect x="364" y="383" width="1" height="3"/><rect x="366" y="383" width="1" height="3"/><rect x="370" y="383" width="2" height="3"/><rect x="388" y="383" width="1" height="3"/><rect x="390" y="383" width="1" height="3"/><rect x="403" y="383" width="1" height="3"/><rect x="405" y="383" width="1" height="3"/><rect x="409" y="383" width="1" height="3"/><rect x="411" y="383" width="1" height="3"/><rect x="412" y="383" width="1" height="3"/><rect x="414" y="383" width="1" height="3"/><rect x="415" y="383" width="2" height="3"/><rect x="349" y="386" width="1" height="3"/><rect x="351" y="386" width="1" height="3"/><rect x="367" y="386" width="2" height="3"/><rect x="373" y="386" width="2" height="3"/><rect x="377" y="386" width="1" height="3"/><rect x="376" y="387" width="3" height="1"/><rect x="380" y="386" width="1" height="3"/><rect x="379" y="387" width="3" height="1"/><rect x="382" y="386" width="1" height="3"/><rect x="384" y="386" width="1" height="3"/><rect x="389" y="386" width="1" height="3"/><rect x="388" y="387" width="3" height="1"/><rect x="413" y="386" width="1" height="3"/><rect x="412" y="387" width="3" height="1"/><rect x="352" y="389" width="1" height="3"/><rect x="354" y="389" width="1" height="3"/><rect x="374" y="389" width="1" height="3"/><rect x="373" y="390" width="3" height="1"/><rect x="383" y="389" width="1" height="3"/><rect x="382" y="390" width="3" height="1"/><rect x="385" y="389" width="2" height="3"/><rect x="392" y="389" width="1" height="3"/><rect x="391" y="390" width="3" height="1"/><rect x="364" y="392" width="1" height="3"/><rect x="366" y="392" width="1" height="3"/><rect x="374" y="392" width="1" height="3"/><rect x="373" y="393" width="3" height="1"/><rect x="377" y="392" width="1" height="3"/><rect x="376" y="393" width="3" height="1"/><rect x="395" y="392" width="1" height="3"/><rect x="394" y="393" width="3" height="1"/><rect x="421" y="392" width="2" height="3"/><rect x="355" y="395" width="1" height="3"/><rect x="357" y="395" width="1" height="3"/><rect x="358" y="395" width="2" height="3"/><rect x="361" y="395" width="2" height="3"/><rect x="371" y="395" width="1" height="3"/><rect x="370" y="396" width="3" height="1"/><rect x="398" y="395" width="1" height="3"/><rect x="397" y="396" width="3" height="1"/><rect x="401" y="395" width="1" height="3"/><rect x="400" y="396" width="3" height="1"/><rect x="346" y="398" width="1" height="3"/><rect x="348" y="398" width="1" height="3"/><rect x="367" y="398" width="2" height="3"/><rect x="370" y="398" width="1" height="3"/><rect x="372" y="398" width="1" height="3"/><rect x="394" y="398" width="2" height="3"/><rect x="335" y="401" width="1" height="3"/><rect x="334" y="402" width="3" height="1"/><rect x="358" y="401" width="1" height="3"/><rect x="360" y="401" width="1" height="3"/><rect x="373" y="401" width="2" height="3"/><rect x="398" y="401" width="1" height="3"/><rect x="397" y="402" width="3" height="1"/><rect x="355" y="404" width="2" height="3"/><rect x="376" y="404" width="1" height="3"/><rect x="378" y="404" width="1" height="3"/><rect x="391" y="404" width="1" height="3"/><rect x="393" y="404" width="1" height="3"/><rect x="394" y="404" width="1" height="3"/><rect x="396" y="404" width="1" height="3"/><rect x="398" y="404" width="1" height="3"/><rect x="397" y="405" width="3" height="1"/><rect x="337" y="407" width="1" height="3"/><rect x="339" y="407" width="1" height="3"/><rect x="371" y="407" width="1" height="3"/><rect x="370" y="408" width="3" height="1"/><rect x="349" y="410" width="1" height="3"/><rect x="351" y="410" width="1" height="3"/><rect x="356" y="410" width="1" height="3"/><rect x="355" y="411" width="3" height="1"/><rect x="364" y="410" width="1" height="3"/><rect x="366" y="410" width="1" height="3"/><rect x="382" y="410" width="1" height="3"/><rect x="384" y="410" width="1" height="3"/><rect x="395" y="410" width="1" height="3"/><rect x="394" y="411" width="3" height="1"/><rect x="359" y="413" width="1" height="3"/><rect x="358" y="414" width="3" height="1"/><rect x="394" y="413" width="1" height="3"/><rect x="396" y="413" width="1" height="3"/><rect x="358" y="416" width="1" height="3"/><rect x="360" y="416" width="1" height="3"/><rect x="370" y="416" width="2" height="3"/><rect x="373" y="416" width="1" height="3"/><rect x="375" y="416" width="1" height="3"/><rect x="385" y="416" width="1" height="3"/><rect x="387" y="416" width="1" height="3"/><rect x="394" y="416" width="1" height="3"/><rect x="396" y="416" width="1" height="3"/><rect x="338" y="419" width="1" height="3"/><rect x="337" y="420" width="3" height="1"/><rect x="355" y="419" width="1" height="3"/><rect x="357" y="419" width="1" height="3"/><rect x="358" y="419" width="1" height="3"/><rect x="360" y="419" width="1" height="3"/><rect x="377" y="419" width="1" height="3"/><rect x="376" y="420" width="3" height="1"/><rect x="394" y="419" width="1" height="3"/><rect x="396" y="419" width="1" height="3"/><rect x="355" y="422" width="1" height="3"/><rect x="357" y="422" width="1" height="3"/><rect x="379" y="422" width="1" height="3"/><rect x="381" y="422" width="1" height="3"/><rect x="394" y="422" width="1" height="3"/><rect x="396" y="422" width="1" height="3"/><rect x="370" y="425" width="1" height="3"/><rect x="372" y="425" width="1" height="3"/><rect x="361" y="428" width="1" height="3"/><rect x="363" y="428" width="1" height="3"/><rect x="367" y="428" width="1" height="3"/><rect x="369" y="428" width="1" height="3"/><rect x="373" y="428" width="1" height="3"/><rect x="375" y="428" width="1" height="3"/><rect x="382" y="428" width="1" height="3"/><rect x="384" y="428" width="1" height="3"/><rect x="346" y="431" width="2" height="3"/><rect x="362" y="431" width="1" height="3"/><rect x="361" y="432" width="3" height="1"/><rect x="364" y="431" width="1" height="3"/><rect x="366" y="431" width="1" height="3"/><rect x="376" y="431" width="1" height="3"/><rect x="378" y="431" width="1" height="3"/><rect x="380" y="431" width="1" height="3"/><rect x="379" y="432" width="3" height="1"/><rect x="388" y="431" width="2" height="3"/><rect x="391" y="431" width="2" height="3"/><rect x="395" y="431" width="1" height="3"/><rect x="394" y="432" width="3" height="1"/><rect x="367" y="434" width="2" height="3"/><rect x="373" y="434" width="2" height="3"/><rect x="379" y="434" width="1" height="3"/><rect x="381" y="434" width="1" height="3"/><rect x="385" y="434" width="1" height="3"/><rect x="387" y="434" width="1" height="3"/><rect x="392" y="434" width="1" height="3"/><rect x="391" y="435" width="3" height="1"/><rect x="371" y="437" width="1" height="3"/><rect x="370" y="438" width="3" height="1"/><rect x="373" y="437" width="1" height="3"/><rect x="375" y="437" width="1" height="3"/><rect x="380" y="437" width="1" height="3"/><rect x="379" y="438" width="3" height="1"/><rect x="382" y="437" width="1" height="3"/><rect x="384" y="437" width="1" height="3"/><rect x="386" y="437" width="1" height="3"/><rect x="385" y="438" width="3" height="1"/><rect x="389" y="437" width="1" height="3"/><rect x="388" y="438" width="3" height="1"/><rect x="391" y="437" width="2" height="3"/><rect x="404" y="437" width="1" height="3"/><rect x="403" y="438" width="3" height="1"/><rect x="413" y="437" width="1" height="3"/><rect x="412" y="438" width="3" height="1"/><rect x="367" y="440" width="2" height="3"/><rect x="382" y="440" width="2" height="3"/><rect x="385" y="440" width="2" height="3"/><rect x="382" y="443" width="1" height="3"/><rect x="384" y="443" width="1" height="3"/><rect x="388" y="443" width="1" height="3"/><rect x="390" y="443" width="1" height="3"/><rect x="377" y="446" width="1" height="3"/><rect x="376" y="447" width="3" height="1"/></g><g fill="#888" shape-rendering="crispEdges"></g><g fill="#111" shape-rendering="crispEdges"><rect x="373" y="344" width="3" height="3"/><rect x="379" y="347" width="3" height="3"/><rect x="385" y="347" width="3" height="3"/><rect x="379" y="350" width="3" height="3"/><rect x="385" y="350" width="3" height="3"/><rect x="379" y="353" width="3" height="3"/><rect x="370" y="356" width="3" height="3"/><rect x="370" y="359" width="3" height="3"/><rect x="382" y="359" width="6" height="3"/><rect x="394" y="359" width="3" height="3"/><rect x="373" y="365" width="3" height="3"/><rect x="379" y="365" width="6" height="3"/><rect x="388" y="365" width="3" height="3"/><rect x="364" y="368" width="6" height="3"/><rect x="376" y="368" width="3" height="3"/><rect x="382" y="368" width="12" height="3"/><rect x="364" y="371" width="3" height="3"/><rect x="373" y="371" width="3" height="3"/><rect x="397" y="371" width="3" height="3"/><rect x="364" y="374" width="9" height="3"/><rect x="382" y="374" width="3" height="3"/><rect x="388" y="374" width="3" height="3"/><rect x="397" y="374" width="3" height="3"/><rect x="370" y="377" width="3" height="3"/><rect x="376" y="377" width="9" height="3"/><rect x="391" y="377" width="3" height="3"/><rect x="373" y="380" width="6" height="3"/><rect x="382" y="380" width="3" height="3"/><rect x="391" y="380" width="3" height="3"/><rect x="397" y="380" width="3" height="3"/><rect x="361" y="383" width="3" height="3"/><rect x="367" y="383" width="3" height="3"/><rect x="373" y="383" width="6" height="3"/><rect x="385" y="383" width="3" height="3"/><rect x="394" y="383" width="6" height="3"/><rect x="421" y="383" width="3" height="3"/><rect x="358" y="386" width="9" height="3"/><rect x="385" y="386" width="3" height="3"/><rect x="391" y="386" width="3" height="3"/><rect x="397" y="386" width="3" height="3"/><rect x="355" y="389" width="3" height="3"/><rect x="364" y="389" width="6" height="3"/><rect x="376" y="389" width="6" height="3"/><rect x="388" y="389" width="3" height="3"/><rect x="397" y="389" width="3" height="3"/><rect x="355" y="392" width="3" height="3"/><rect x="361" y="392" width="3" height="3"/><rect x="367" y="392" width="6" height="3"/><rect x="379" y="392" width="6" height="3"/><rect x="388" y="392" width="6" height="3"/><rect x="397" y="392" width="3" height="3"/><rect x="364" y="395" width="6" height="3"/><rect x="373" y="395" width="9" height="3"/><rect x="385" y="395" width="12" height="3"/><rect x="361" y="398" width="6" height="3"/><rect x="376" y="398" width="12" height="3"/><rect x="391" y="398" width="3" height="3"/><rect x="400" y="398" width="3" height="3"/><rect x="355" y="401" width="3" height="3"/><rect x="361" y="401" width="12" height="3"/><rect x="376" y="401" width="9" height="3"/><rect x="388" y="401" width="9" height="3"/><rect x="358" y="404" width="3" height="3"/><rect x="364" y="404" width="12" height="3"/><rect x="379" y="404" width="12" height="3"/><rect x="355" y="407" width="15" height="3"/><rect x="373" y="407" width="21" height="3"/><rect x="400" y="407" width="3" height="3"/><rect x="352" y="410" width="3" height="3"/><rect x="358" y="410" width="6" height="3"/><rect x="367" y="410" width="15" height="3"/><rect x="385" y="410" width="9" height="3"/><rect x="397" y="410" width="3" height="3"/><rect x="364" y="413" width="30" height="3"/><rect x="397" y="413" width="3" height="3"/><rect x="361" y="416" width="9" height="3"/><rect x="376" y="416" width="9" height="3"/><rect x="388" y="416" width="6" height="3"/><rect x="361" y="419" width="15" height="3"/><rect x="379" y="419" width="15" height="3"/><rect x="397" y="419" width="3" height="3"/><rect x="361" y="422" width="18" height="3"/><rect x="382" y="422" width="3" height="3"/><rect x="388" y="422" width="6" height="3"/><rect x="364" y="425" width="6" height="3"/><rect x="376" y="425" width="15" height="3"/><rect x="370" y="428" width="3" height="3"/><rect x="379" y="428" width="3" height="3"/><rect x="385" y="428" width="9" height="3"/><rect x="373" y="431" width="3" height="3"/><rect x="382" y="431" width="6" height="3"/><rect x="364" y="434" width="3" height="3"/><rect x="370" y="434" width="3" height="3"/><rect x="376" y="434" width="3" height="3"/><rect x="367" y="437" width="3" height="3"/><rect x="376" y="437" width="3" height="3"/><rect x="361" y="440" width="3" height="3"/><rect x="370" y="440" width="3" height="3"/><rect x="370" y="443" width="12" height="3"/><rect x="367" y="446" width="3" height="3"/><rect x="379" y="446" width="3" height="3"/></g>
<path d="M297.50,286.60 L516.10,288.00 L515.10,456.20 L297.20,455.50 Z" stroke="#1e1e1e" stroke-width="1.7" fill="none" stroke-linejoin="miter"/>
<text x="295.70" y="465.50" font-family="Liberation Mono" font-weight="bold" font-size="6" text-anchor="start" fill="#000" textLength="8.9" lengthAdjust="spacingAndGlyphs" stroke="#000" stroke-width="0.45">.1</text>
<text x="352.35" y="465.50" font-family="Liberation Mono" font-weight="bold" font-size="6" text-anchor="start" fill="#000" textLength="3.8" lengthAdjust="spacingAndGlyphs" stroke="#000" stroke-width="0.45">1</text>
<text x="401.10" y="465.50" font-family="Liberation Mono" font-weight="bold" font-size="6" text-anchor="start" fill="#000" textLength="9.2" lengthAdjust="spacingAndGlyphs" stroke="#000" stroke-width="0.45">10</text>
<text x="451.25" y="465.50" font-family="Liberation Mono" font-weight="bold" font-size="6" text-anchor="start" fill="#000" textLength="13.8" lengthAdjust="spacingAndGlyphs" stroke="#000" stroke-width="0.45">100</text>
<text x="493.20" y="465.50" font-family="Liberation Mono" font-weight="bold" font-size="6" text-anchor="start" fill="#000" textLength="21.5" lengthAdjust="spacingAndGlyphs" stroke="#000" stroke-width="0.45">1000</text>
<text x="394.40" y="471.30" font-family="Liberation Mono" font-weight="bold" font-size="5.8" text-anchor="start" fill="#000" textLength="21.2" lengthAdjust="spacingAndGlyphs" stroke="#000" stroke-width="0.45">CD38</text>
<text x="290.70" y="451.80" font-family="Liberation Mono" font-weight="bold" font-size="6.4" text-anchor="end" fill="#000" textLength="6.9" lengthAdjust="spacingAndGlyphs" transform="rotate(-90 290.70 451.80)" stroke="#000" stroke-width="0.45">.1</text>
<text x="290.70" y="410.10" font-family="Liberation Mono" font-weight="bold" font-size="6.4" text-anchor="end" fill="#000" textLength="3.6" lengthAdjust="spacingAndGlyphs" transform="rotate(-90 290.70 410.10)" stroke="#000" stroke-width="0.45">1</text>
<text x="290.70" y="368.10" font-family="Liberation Mono" font-weight="bold" font-size="6.4" text-anchor="end" fill="#000" textLength="6.8" lengthAdjust="spacingAndGlyphs" transform="rotate(-90 290.70 368.10)" stroke="#000" stroke-width="0.45">10</text>
<text x="290.70" y="325.40" font-family="Liberation Mono" font-weight="bold" font-size="6.4" text-anchor="end" fill="#000" textLength="12.4" lengthAdjust="spacingAndGlyphs" transform="rotate(-90 290.70 325.40)" stroke="#000" stroke-width="0.45">100</text>
<text x="290.70" y="287.30" font-family="Liberation Mono" font-weight="bold" font-size="6.4" text-anchor="end" fill="#000" textLength="16.7" lengthAdjust="spacingAndGlyphs" transform="rotate(-90 290.70 287.30)" stroke="#000" stroke-width="0.45">1000</text>
<text x="282.50" y="379.60" font-family="Liberation Sans" font-weight="bold" font-size="7.4" text-anchor="start" fill="#000" textLength="16.8" lengthAdjust="spacingAndGlyphs" transform="rotate(-90 282.50 379.60)" stroke="#000" stroke-width="0.25">CD45</text>
<text x="297.30" y="279.00" font-family="Liberation Mono" font-weight="bold" font-size="5.5" text-anchor="start" fill="#222" textLength="19.5" lengthAdjust="spacingAndGlyphs" stroke="#222" stroke-width="0.15">G1 A</text>
<text x="359.30" y="296.20" font-family="Liberation Mono" font-weight="bold" font-size="6" text-anchor="start" fill="#000" textLength="3.8" lengthAdjust="spacingAndGlyphs" stroke="#000" stroke-width="0.45">1</text>
<text x="508.90" y="296.40" font-family="Liberation Mono" font-weight="bold" font-size="6" text-anchor="start" fill="#000" textLength="4.6" lengthAdjust="spacingAndGlyphs" stroke="#000" stroke-width="0.45">2</text>
<text x="359.30" y="408.80" font-family="Liberation Mono" font-weight="bold" font-size="6" text-anchor="start" fill="#000" textLength="3.9" lengthAdjust="spacingAndGlyphs" stroke="#000" stroke-width="0.45">3</text>
<text x="508.60" y="408.60" font-family="Liberation Mono" font-weight="bold" font-size="6" text-anchor="start" fill="#000" textLength="4.4" lengthAdjust="spacingAndGlyphs" stroke="#000" stroke-width="0.45">4</text>
<text x="412.00" y="393.00" font-family="Liberation Mono" font-weight="bold" font-size="5.6" text-anchor="start" fill="#000" textLength="5.0" lengthAdjust="spacingAndGlyphs" stroke="#000" stroke-width="0.45">D</text>
<text x="383.10" y="452.80" font-family="Liberation Mono" font-weight="bold" font-size="5.6" text-anchor="start" fill="#000" textLength="3.9" lengthAdjust="spacingAndGlyphs" stroke="#000" stroke-width="0.45">E</text>
<text x="457.50" y="331.10" font-family="Liberation Serif" font-weight="normal" font-size="14" text-anchor="start" fill="#111" textLength="35.2" lengthAdjust="spacingAndGlyphs">36.0%</text>
<path d="M49.50,660.40v3.5 M49.50,660.40h-3.5 M65.54,660.40v3.0 M49.50,648.01h-3.0 M74.93,660.40v3.0 M49.50,640.77h-3.0 M81.59,660.40v3.0 M49.50,635.63h-3.0 M86.76,660.40v3.0 M49.50,631.64h-3.0 M90.98,660.40v3.0 M49.50,628.38h-3.0 M94.54,660.40v3.0 M49.50,625.62h-3.0 M97.63,660.40v3.0 M49.50,623.24h-3.0 M100.36,660.40v3.0 M49.50,621.13h-3.0 M102.80,660.40v3.5 M49.50,619.25h-3.5 M118.84,660.40v3.0 M49.50,606.86h-3.0 M128.23,660.40v3.0 M49.50,599.62h-3.0 M134.89,660.40v3.0 M49.50,594.48h-3.0 M140.06,660.40v3.0 M49.50,590.49h-3.0 M144.28,660.40v3.0 M49.50,587.23h-3.0 M147.84,660.40v3.0 M49.50,584.47h-3.0 M150.93,660.40v3.0 M49.50,582.09h-3.0 M153.66,660.40v3.0 M49.50,579.98h-3.0 M156.10,660.40v3.5 M49.50,578.10h-3.5 M172.14,660.40v3.0 M49.50,565.71h-3.0 M181.53,660.40v3.0 M49.50,558.47h-3.0 M188.19,660.40v3.0 M49.50,553.33h-3.0 M193.36,660.40v3.0 M49.50,549.34h-3.0 M197.58,660.40v3.0 M49.50,546.08h-3.0 M201.14,660.40v3.0 M49.50,543.32h-3.0 M204.23,660.40v3.0 M49.50,540.94h-3.0 M206.96,660.40v3.0 M49.50,538.83h-3.0 M209.40,660.40v3.5 M49.50,536.95h-3.5 M225.44,660.40v3.0 M49.50,524.56h-3.0 M234.83,660.40v3.0 M49.50,517.32h-3.0 M241.49,660.40v3.0 M49.50,512.18h-3.0 M246.66,660.40v3.0 M49.50,508.19h-3.0 M250.88,660.40v3.0 M49.50,504.93h-3.0 M254.44,660.40v3.0 M49.50,502.17h-3.0 M257.53,660.40v3.0 M49.50,499.79h-3.0 M260.26,660.40v3.0 M49.50,497.68h-3.0 M262.70,660.40v3.5 M49.50,495.80h-3.5" stroke="#222" stroke-width="1.3" fill="none"/>
<path d="M137.50,541.60 L169.50,541.60 C177.78,541.60 184.50,548.32 184.50,556.60 L184.50,587.30 C184.50,593.93 179.13,599.30 172.50,599.30 L121.50,599.30 C114.87,599.30 109.50,593.93 109.50,587.30 L109.50,569.60 C109.50,554.14 122.04,541.60 137.50,541.60Z" stroke="#1a1a1a" stroke-width="1.2" fill="none"/>
<path d="M129.50,603.80 L158.00,603.80 C167.94,603.80 176.00,611.86 176.00,621.80 L176.00,647.40 C176.00,654.03 170.63,659.40 164.00,659.40 L122.50,659.40 C114.22,659.40 107.50,652.68 107.50,644.40 L107.50,625.80 C107.50,613.65 117.35,603.80 129.50,603.80Z" stroke="#1a1a1a" stroke-width="1.2" fill="none"/>
<path d="M119.00,495.80V660.40" stroke="#222" stroke-width="2" fill="none"/>
<path d="M49.50,601.00H262.70" stroke="#444" stroke-width="1.5" fill="none"/>
<g fill="#8a8a8a" shape-rendering="crispEdges"></g><g fill="#888" shape-rendering="crispEdges"></g><g fill="#111" shape-rendering="crispEdges"></g>
<g fill="#111"><rect x="144.7" y="564.4" width="3.5" height="3.5"/><rect x="181.8" y="564.6" width="3.5" height="3.5"/><rect x="178.2" y="571.6" width="3.5" height="3.5"/><rect x="174.8" y="579.8" width="3.5" height="3.5"/><rect x="154.9" y="582.0" width="3.5" height="3.5"/><rect x="154.9" y="587.1" width="3.5" height="3.5"/><rect x="164.6" y="585.0" width="3.5" height="3.5"/><rect x="168.3" y="587.1" width="3.5" height="3.5"/><rect x="138.3" y="589.8" width="3.5" height="3.5"/><rect x="148.4" y="592.4" width="3.5" height="3.5"/><rect x="151.1" y="595.0" width="3.5" height="3.5"/><rect x="151.6" y="599.9" width="3.5" height="3.5"/><rect x="161.3" y="599.9" width="3.5" height="3.5"/><rect x="128.6" y="599.9" width="3.5" height="3.5"/><rect x="92.0" y="626.2" width="3.5" height="3.5"/><rect x="102.0" y="631.2" width="3.5" height="3.5"/><rect x="95.5" y="636.5" width="3.5" height="3.5"/><rect x="168.1" y="611.0" width="3.5" height="3.5"/><rect x="158.4" y="626.2" width="3.5" height="3.5"/><rect x="109.0" y="612.5" width="3.5" height="3.5"/><rect x="112.2" y="617.2" width="3.5" height="3.5"/><rect x="118.0" y="618.2" width="3.5" height="3.5"/><rect x="122.0" y="628.9" width="3.5" height="3.5"/><rect x="122.8" y="632.6" width="3.5" height="3.5"/><rect x="124.8" y="630.8" width="3.5" height="3.5"/><rect x="135.3" y="628.9" width="3.5" height="3.5"/><rect x="137.2" y="628.9" width="3.5" height="3.5"/><rect x="135.3" y="636.5" width="3.5" height="3.5"/><rect x="138.2" y="639.0" width="3.5" height="3.5"/><rect x="122.0" y="641.2" width="3.5" height="3.5"/><rect x="134.4" y="649.5" width="3.5" height="3.5"/><rect x="138.7" y="652.0" width="3.5" height="3.5"/></g>
<g fill="#111"><rect x="128.6" y="599.6" width="3.8" height="3.8"/><rect x="124.6" y="602.6" width="5.8" height="3.8"/><rect x="131.6" y="602.6" width="12.8" height="3.8"/><rect x="127.6" y="602.6" width="3.8" height="8.8"/><rect x="138.1" y="602.6" width="6.3" height="12.8"/><rect x="131.1" y="610.6" width="3.8" height="3.8"/><rect x="124.6" y="613.6" width="4.8" height="8.3"/><rect x="124.6" y="618.6" width="13.8" height="3.3"/><rect x="141.1" y="616.1" width="3.8" height="5.8"/><rect x="124.6" y="623.1" width="7.3" height="3.8"/><rect x="137.6" y="623.1" width="4.3" height="3.8"/><rect x="135.1" y="628.6" width="6.8" height="3.3"/><rect x="121.9" y="629.1" width="7.0" height="3.3"/><rect x="121.9" y="629.1" width="3.5" height="5.8"/><rect x="111.6" y="617.6" width="3.8" height="4.3"/><rect x="109.6" y="613.6" width="2.8" height="3.8"/><rect x="118.6" y="618.6" width="3.8" height="3.3"/><rect x="120.6" y="608.6" width="4.3" height="4.3"/></g>
<path d="M49.50,495.50 L262.70,496.30 L262.50,660.10 L49.50,660.40 Z" stroke="#1e1e1e" stroke-width="1.7" fill="none" stroke-linejoin="miter"/>
<text x="47.90" y="670.10" font-family="Liberation Mono" font-weight="bold" font-size="6" text-anchor="start" fill="#000" textLength="8.9" lengthAdjust="spacingAndGlyphs" stroke="#000" stroke-width="0.45">.1</text>
<text x="103.30" y="670.10" font-family="Liberation Mono" font-weight="bold" font-size="6" text-anchor="start" fill="#000" textLength="3.8" lengthAdjust="spacingAndGlyphs" stroke="#000" stroke-width="0.45">1</text>
<text x="150.80" y="670.10" font-family="Liberation Mono" font-weight="bold" font-size="6" text-anchor="start" fill="#000" textLength="9.2" lengthAdjust="spacingAndGlyphs" stroke="#000" stroke-width="0.45">10</text>
<text x="199.70" y="670.10" font-family="Liberation Mono" font-weight="bold" font-size="6" text-anchor="start" fill="#000" textLength="13.8" lengthAdjust="spacingAndGlyphs" stroke="#000" stroke-width="0.45">100</text>
<text x="240.40" y="670.10" font-family="Liberation Mono" font-weight="bold" font-size="6" text-anchor="start" fill="#000" textLength="21.5" lengthAdjust="spacingAndGlyphs" stroke="#000" stroke-width="0.45">1000</text>
<text x="144.10" y="675.90" font-family="Liberation Mono" font-weight="bold" font-size="5.8" text-anchor="start" fill="#000" textLength="21.2" lengthAdjust="spacingAndGlyphs" stroke="#000" stroke-width="0.45">CD38</text>
<text x="42.90" y="656.40" font-family="Liberation Mono" font-weight="bold" font-size="6.4" text-anchor="end" fill="#000" textLength="6.9" lengthAdjust="spacingAndGlyphs" transform="rotate(-90 42.90 656.40)" stroke="#000" stroke-width="0.45">.1</text>
<text x="42.90" y="615.75" font-family="Liberation Mono" font-weight="bold" font-size="6.4" text-anchor="end" fill="#000" textLength="3.6" lengthAdjust="spacingAndGlyphs" transform="rotate(-90 42.90 615.75)" stroke="#000" stroke-width="0.45">1</text>
<text x="42.90" y="574.80" font-family="Liberation Mono" font-weight="bold" font-size="6.4" text-anchor="end" fill="#000" textLength="6.8" lengthAdjust="spacingAndGlyphs" transform="rotate(-90 42.90 574.80)" stroke="#000" stroke-width="0.45">10</text>
<text x="42.90" y="533.15" font-family="Liberation Mono" font-weight="bold" font-size="6.4" text-anchor="end" fill="#000" textLength="12.4" lengthAdjust="spacingAndGlyphs" transform="rotate(-90 42.90 533.15)" stroke="#000" stroke-width="0.45">100</text>
<text x="42.90" y="496.10" font-family="Liberation Mono" font-weight="bold" font-size="6.4" text-anchor="end" fill="#000" textLength="16.7" lengthAdjust="spacingAndGlyphs" transform="rotate(-90 42.90 496.10)" stroke="#000" stroke-width="0.45">1000</text>
<text x="34.70" y="586.30" font-family="Liberation Sans" font-weight="bold" font-size="7.4" text-anchor="start" fill="#000" textLength="16.8" lengthAdjust="spacingAndGlyphs" transform="rotate(-90 34.70 586.30)" stroke="#000" stroke-width="0.25">CD45</text>
<text x="49.50" y="487.80" font-family="Liberation Mono" font-weight="bold" font-size="5.5" text-anchor="start" fill="#222" textLength="19.5" lengthAdjust="spacingAndGlyphs" stroke="#222" stroke-width="0.15">G1 A</text>
<text x="112.80" y="505.00" font-family="Liberation Mono" font-weight="bold" font-size="6" text-anchor="start" fill="#000" textLength="3.8" lengthAdjust="spacingAndGlyphs" stroke="#000" stroke-width="0.45">1</text>
<text x="256.10" y="505.20" font-family="Liberation Mono" font-weight="bold" font-size="6" text-anchor="start" fill="#000" textLength="4.6" lengthAdjust="spacingAndGlyphs" stroke="#000" stroke-width="0.45">2</text>
<text x="112.80" y="610.20" font-family="Liberation Mono" font-weight="bold" font-size="6" text-anchor="start" fill="#000" textLength="3.9" lengthAdjust="spacingAndGlyphs" stroke="#000" stroke-width="0.45">3</text>
<text x="255.80" y="610.00" font-family="Liberation Mono" font-weight="bold" font-size="6" text-anchor="start" fill="#000" textLength="4.4" lengthAdjust="spacingAndGlyphs" stroke="#000" stroke-width="0.45">4</text>
<text x="125.70" y="597.00" font-family="Liberation Mono" font-weight="bold" font-size="5.6" text-anchor="start" fill="#000" textLength="4.2" lengthAdjust="spacingAndGlyphs" stroke="#000" stroke-width="0.45">B</text>
<text x="160.00" y="597.00" font-family="Liberation Mono" font-weight="bold" font-size="5.6" text-anchor="start" fill="#000" textLength="5.0" lengthAdjust="spacingAndGlyphs" stroke="#000" stroke-width="0.45">D</text>
<text x="138.50" y="655.50" font-family="Liberation Mono" font-weight="bold" font-size="5.6" text-anchor="start" fill="#000" textLength="3.9" lengthAdjust="spacingAndGlyphs" stroke="#000" stroke-width="0.45">E</text>
<text x="204.40" y="533.50" font-family="Liberation Serif" font-weight="normal" font-size="14" text-anchor="start" fill="#111" textLength="33.5" lengthAdjust="spacingAndGlyphs">15.5%</text>
<path d="M296.50,659.80v3.5 M296.50,659.80h-3.5 M312.90,659.80v3.0 M296.50,647.40h-3.0 M322.49,659.80v3.0 M296.50,640.14h-3.0 M329.30,659.80v3.0 M296.50,635.00h-3.0 M334.58,659.80v3.0 M296.50,631.00h-3.0 M338.89,659.80v3.0 M296.50,627.74h-3.0 M342.54,659.80v3.0 M296.50,624.98h-3.0 M345.70,659.80v3.0 M296.50,622.59h-3.0 M348.48,659.80v3.0 M296.50,620.49h-3.0 M350.98,659.80v3.5 M296.50,618.60h-3.5 M367.37,659.80v3.0 M296.50,606.20h-3.0 M376.97,659.80v3.0 M296.50,598.94h-3.0 M383.77,659.80v3.0 M296.50,593.80h-3.0 M389.05,659.80v3.0 M296.50,589.80h-3.0 M393.36,659.80v3.0 M296.50,586.54h-3.0 M397.01,659.80v3.0 M296.50,583.78h-3.0 M400.17,659.80v3.0 M296.50,581.39h-3.0 M402.96,659.80v3.0 M296.50,579.29h-3.0 M405.45,659.80v3.5 M296.50,577.40h-3.5 M421.85,659.80v3.0 M296.50,565.00h-3.0 M431.44,659.80v3.0 M296.50,557.74h-3.0 M438.25,659.80v3.0 M296.50,552.60h-3.0 M443.53,659.80v3.0 M296.50,548.60h-3.0 M447.84,659.80v3.0 M296.50,545.34h-3.0 M451.49,659.80v3.0 M296.50,542.58h-3.0 M454.65,659.80v3.0 M296.50,540.19h-3.0 M457.43,659.80v3.0 M296.50,538.09h-3.0 M459.92,659.80v3.5 M296.50,536.20h-3.5 M476.32,659.80v3.0 M296.50,523.80h-3.0 M485.92,659.80v3.0 M296.50,516.54h-3.0 M492.72,659.80v3.0 M296.50,511.40h-3.0 M498.00,659.80v3.0 M296.50,507.40h-3.0 M502.31,659.80v3.0 M296.50,504.14h-3.0 M505.96,659.80v3.0 M296.50,501.38h-3.0 M509.12,659.80v3.0 M296.50,498.99h-3.0 M511.91,659.80v3.0 M296.50,496.89h-3.0 M514.40,659.80v3.5 M296.50,495.00h-3.5" stroke="#222" stroke-width="1.3" fill="none"/>
<path d="M382.00,541.00 L419.50,541.00 C427.78,541.00 434.50,547.72 434.50,556.00 L434.50,584.00 C434.50,591.73 428.23,598.00 420.50,598.00 L372.00,598.00 C366.48,598.00 362.00,593.52 362.00,588.00 L362.00,561.00 C362.00,549.95 370.95,541.00 382.00,541.00Z" stroke="#1a1a1a" stroke-width="1.2" fill="none"/>
<path d="M374.60,602.70 L410.50,602.70 C421.55,602.70 430.50,611.65 430.50,622.70 L430.50,644.10 C430.50,651.83 424.23,658.10 416.50,658.10 L368.60,658.10 C361.97,658.10 356.60,652.73 356.60,646.10 L356.60,620.70 C356.60,610.76 364.66,602.70 374.60,602.70Z" stroke="#1a1a1a" stroke-width="1.2" fill="none"/>
<path d="M367.70,495.00V659.80" stroke="#222" stroke-width="2" fill="none"/>
<path d="M296.50,600.20H514.40" stroke="#444" stroke-width="1.5" fill="none"/>
<g fill="#8a8a8a" shape-rendering="crispEdges"><rect x="345" y="507" width="1" height="3"/><rect x="347" y="507" width="1" height="3"/><rect x="396" y="510" width="2" height="3"/><rect x="405" y="510" width="1" height="3"/><rect x="407" y="510" width="1" height="3"/><rect x="333" y="513" width="1" height="3"/><rect x="335" y="513" width="1" height="3"/><rect x="358" y="513" width="1" height="3"/><rect x="357" y="514" width="3" height="1"/><rect x="342" y="519" width="1" height="3"/><rect x="344" y="519" width="1" height="3"/><rect x="367" y="519" width="1" height="3"/><rect x="366" y="520" width="3" height="1"/><rect x="361" y="528" width="1" height="3"/><rect x="360" y="529" width="3" height="1"/><rect x="423" y="528" width="1" height="3"/><rect x="425" y="528" width="1" height="3"/><rect x="354" y="531" width="2" height="3"/><rect x="373" y="531" width="1" height="3"/><rect x="372" y="532" width="3" height="1"/><rect x="390" y="531" width="1" height="3"/><rect x="392" y="531" width="1" height="3"/><rect x="405" y="531" width="1" height="3"/><rect x="407" y="531" width="1" height="3"/><rect x="363" y="534" width="2" height="3"/><rect x="367" y="534" width="1" height="3"/><rect x="366" y="535" width="3" height="1"/><rect x="375" y="534" width="2" height="3"/><rect x="379" y="534" width="1" height="3"/><rect x="378" y="535" width="3" height="1"/><rect x="390" y="534" width="1" height="3"/><rect x="392" y="534" width="1" height="3"/><rect x="363" y="537" width="2" height="3"/><rect x="372" y="537" width="2" height="3"/><rect x="378" y="537" width="1" height="3"/><rect x="380" y="537" width="1" height="3"/><rect x="381" y="537" width="2" height="3"/><rect x="345" y="540" width="1" height="3"/><rect x="347" y="540" width="1" height="3"/><rect x="369" y="540" width="1" height="3"/><rect x="371" y="540" width="1" height="3"/><rect x="379" y="540" width="1" height="3"/><rect x="378" y="541" width="3" height="1"/><rect x="381" y="540" width="1" height="3"/><rect x="383" y="540" width="1" height="3"/><rect x="397" y="540" width="1" height="3"/><rect x="396" y="541" width="3" height="1"/><rect x="403" y="540" width="1" height="3"/><rect x="402" y="541" width="3" height="1"/><rect x="405" y="540" width="2" height="3"/><rect x="360" y="543" width="1" height="3"/><rect x="362" y="543" width="1" height="3"/><rect x="420" y="543" width="1" height="3"/><rect x="422" y="543" width="1" height="3"/><rect x="360" y="546" width="2" height="3"/><rect x="411" y="546" width="2" height="3"/><rect x="361" y="549" width="1" height="3"/><rect x="360" y="550" width="3" height="1"/><rect x="417" y="549" width="1" height="3"/><rect x="419" y="549" width="1" height="3"/><rect x="360" y="552" width="1" height="3"/><rect x="362" y="552" width="1" height="3"/><rect x="376" y="552" width="1" height="3"/><rect x="375" y="553" width="3" height="1"/><rect x="417" y="552" width="1" height="3"/><rect x="419" y="552" width="1" height="3"/><rect x="420" y="552" width="1" height="3"/><rect x="422" y="552" width="1" height="3"/><rect x="351" y="555" width="2" height="3"/><rect x="378" y="558" width="1" height="3"/><rect x="380" y="558" width="1" height="3"/><rect x="423" y="558" width="2" height="3"/><rect x="309" y="561" width="1" height="3"/><rect x="311" y="561" width="1" height="3"/><rect x="345" y="561" width="1" height="3"/><rect x="347" y="561" width="1" height="3"/><rect x="384" y="561" width="1" height="3"/><rect x="386" y="561" width="1" height="3"/><rect x="418" y="561" width="1" height="3"/><rect x="417" y="562" width="3" height="1"/><rect x="351" y="564" width="1" height="3"/><rect x="353" y="564" width="1" height="3"/><rect x="381" y="564" width="1" height="3"/><rect x="383" y="564" width="1" height="3"/><rect x="396" y="564" width="1" height="3"/><rect x="398" y="564" width="1" height="3"/><rect x="400" y="564" width="1" height="3"/><rect x="399" y="565" width="3" height="1"/><rect x="414" y="564" width="1" height="3"/><rect x="416" y="564" width="1" height="3"/><rect x="315" y="567" width="2" height="3"/><rect x="351" y="567" width="1" height="3"/><rect x="353" y="567" width="1" height="3"/><rect x="405" y="567" width="1" height="3"/><rect x="407" y="567" width="1" height="3"/><rect x="408" y="567" width="1" height="3"/><rect x="410" y="567" width="1" height="3"/><rect x="415" y="567" width="1" height="3"/><rect x="414" y="568" width="3" height="1"/><rect x="330" y="570" width="1" height="3"/><rect x="332" y="570" width="1" height="3"/><rect x="394" y="570" width="1" height="3"/><rect x="393" y="571" width="3" height="1"/><rect x="402" y="570" width="1" height="3"/><rect x="404" y="570" width="1" height="3"/><rect x="414" y="570" width="1" height="3"/><rect x="416" y="570" width="1" height="3"/><rect x="426" y="570" width="1" height="3"/><rect x="428" y="570" width="1" height="3"/><rect x="369" y="573" width="1" height="3"/><rect x="371" y="573" width="1" height="3"/><rect x="381" y="573" width="2" height="3"/><rect x="408" y="573" width="1" height="3"/><rect x="410" y="573" width="1" height="3"/><rect x="414" y="573" width="1" height="3"/><rect x="416" y="573" width="1" height="3"/><rect x="427" y="573" width="1" height="3"/><rect x="426" y="574" width="3" height="1"/><rect x="360" y="576" width="2" height="3"/><rect x="363" y="576" width="2" height="3"/><rect x="408" y="576" width="2" height="3"/><rect x="436" y="576" width="1" height="3"/><rect x="435" y="577" width="3" height="1"/><rect x="357" y="579" width="1" height="3"/><rect x="359" y="579" width="1" height="3"/><rect x="373" y="579" width="1" height="3"/><rect x="372" y="580" width="3" height="1"/><rect x="414" y="579" width="1" height="3"/><rect x="416" y="579" width="1" height="3"/><rect x="357" y="582" width="1" height="3"/><rect x="359" y="582" width="1" height="3"/><rect x="376" y="582" width="1" height="3"/><rect x="375" y="583" width="3" height="1"/><rect x="381" y="582" width="2" height="3"/><rect x="402" y="582" width="2" height="3"/><rect x="405" y="582" width="1" height="3"/><rect x="407" y="582" width="1" height="3"/><rect x="423" y="582" width="1" height="3"/><rect x="425" y="582" width="1" height="3"/><rect x="438" y="582" width="1" height="3"/><rect x="440" y="582" width="1" height="3"/><rect x="342" y="585" width="1" height="3"/><rect x="344" y="585" width="1" height="3"/><rect x="351" y="585" width="2" height="3"/><rect x="403" y="585" width="1" height="3"/><rect x="402" y="586" width="3" height="1"/><rect x="405" y="585" width="1" height="3"/><rect x="407" y="585" width="1" height="3"/><rect x="417" y="585" width="1" height="3"/><rect x="419" y="585" width="1" height="3"/><rect x="426" y="585" width="2" height="3"/><rect x="400" y="588" width="1" height="3"/><rect x="399" y="589" width="3" height="1"/><rect x="403" y="588" width="1" height="3"/><rect x="402" y="589" width="3" height="1"/><rect x="409" y="588" width="1" height="3"/><rect x="408" y="589" width="3" height="1"/><rect x="418" y="588" width="1" height="3"/><rect x="417" y="589" width="3" height="1"/><rect x="351" y="591" width="1" height="3"/><rect x="353" y="591" width="1" height="3"/><rect x="366" y="591" width="2" height="3"/><rect x="399" y="591" width="2" height="3"/><rect x="402" y="591" width="1" height="3"/><rect x="404" y="591" width="1" height="3"/><rect x="406" y="591" width="1" height="3"/><rect x="405" y="592" width="3" height="1"/><rect x="429" y="591" width="1" height="3"/><rect x="431" y="591" width="1" height="3"/><rect x="408" y="594" width="1" height="3"/><rect x="410" y="594" width="1" height="3"/><rect x="334" y="597" width="1" height="3"/><rect x="333" y="598" width="3" height="1"/><rect x="342" y="597" width="2" height="3"/><rect x="357" y="597" width="1" height="3"/><rect x="359" y="597" width="1" height="3"/><rect x="369" y="597" width="2" height="3"/><rect x="415" y="597" width="1" height="3"/><rect x="414" y="598" width="3" height="1"/><rect x="426" y="597" width="1" height="3"/><rect x="428" y="597" width="1" height="3"/><rect x="363" y="600" width="1" height="3"/><rect x="365" y="600" width="1" height="3"/><rect x="367" y="600" width="1" height="3"/><rect x="366" y="601" width="3" height="1"/><rect x="378" y="600" width="2" height="3"/><rect x="381" y="600" width="1" height="3"/><rect x="383" y="600" width="1" height="3"/><rect x="399" y="600" width="1" height="3"/><rect x="401" y="600" width="1" height="3"/><rect x="430" y="600" width="1" height="3"/><rect x="429" y="601" width="3" height="1"/><rect x="355" y="603" width="1" height="3"/><rect x="354" y="604" width="3" height="1"/><rect x="358" y="603" width="1" height="3"/><rect x="357" y="604" width="3" height="1"/><rect x="366" y="603" width="2" height="3"/><rect x="375" y="603" width="1" height="3"/><rect x="377" y="603" width="1" height="3"/><rect x="378" y="603" width="1" height="3"/><rect x="380" y="603" width="1" height="3"/><rect x="385" y="603" width="1" height="3"/><rect x="384" y="604" width="3" height="1"/><rect x="396" y="603" width="2" height="3"/><rect x="348" y="606" width="2" height="3"/><rect x="372" y="606" width="1" height="3"/><rect x="374" y="606" width="1" height="3"/><rect x="376" y="606" width="1" height="3"/><rect x="375" y="607" width="3" height="1"/><rect x="391" y="606" width="1" height="3"/><rect x="390" y="607" width="3" height="1"/><rect x="400" y="606" width="1" height="3"/><rect x="399" y="607" width="3" height="1"/><rect x="415" y="606" width="1" height="3"/><rect x="414" y="607" width="3" height="1"/><rect x="340" y="609" width="1" height="3"/><rect x="339" y="610" width="3" height="1"/><rect x="343" y="609" width="1" height="3"/><rect x="342" y="610" width="3" height="1"/><rect x="364" y="609" width="1" height="3"/><rect x="363" y="610" width="3" height="1"/><rect x="379" y="609" width="1" height="3"/><rect x="378" y="610" width="3" height="1"/><rect x="384" y="609" width="2" height="3"/><rect x="387" y="609" width="1" height="3"/><rect x="389" y="609" width="1" height="3"/><rect x="316" y="612" width="1" height="3"/><rect x="315" y="613" width="3" height="1"/><rect x="342" y="612" width="2" height="3"/><rect x="379" y="612" width="1" height="3"/><rect x="378" y="613" width="3" height="1"/><rect x="393" y="612" width="2" height="3"/><rect x="399" y="612" width="1" height="3"/><rect x="401" y="612" width="1" height="3"/><rect x="352" y="615" width="1" height="3"/><rect x="351" y="616" width="3" height="1"/><rect x="357" y="615" width="2" height="3"/><rect x="372" y="615" width="2" height="3"/><rect x="375" y="615" width="1" height="3"/><rect x="377" y="615" width="1" height="3"/><rect x="393" y="615" width="2" height="3"/><rect x="402" y="615" width="1" height="3"/><rect x="404" y="615" width="1" height="3"/><rect x="363" y="618" width="2" height="3"/><rect x="369" y="618" width="1" height="3"/><rect x="371" y="618" width="1" height="3"/><rect x="387" y="618" width="2" height="3"/><rect x="393" y="618" width="2" height="3"/><rect x="351" y="621" width="2" height="3"/><rect x="366" y="621" width="1" height="3"/><rect x="368" y="621" width="1" height="3"/><rect x="369" y="621" width="2" height="3"/><rect x="375" y="621" width="2" height="3"/><rect x="390" y="621" width="2" height="3"/><rect x="352" y="624" width="1" height="3"/><rect x="351" y="625" width="3" height="1"/><rect x="379" y="624" width="1" height="3"/><rect x="378" y="625" width="3" height="1"/><rect x="390" y="624" width="1" height="3"/><rect x="392" y="624" width="1" height="3"/><rect x="333" y="627" width="1" height="3"/><rect x="335" y="627" width="1" height="3"/><rect x="360" y="627" width="1" height="3"/><rect x="362" y="627" width="1" height="3"/><rect x="367" y="627" width="1" height="3"/><rect x="366" y="628" width="3" height="1"/><rect x="376" y="627" width="1" height="3"/><rect x="375" y="628" width="3" height="1"/><rect x="382" y="627" width="1" height="3"/><rect x="381" y="628" width="3" height="1"/><rect x="357" y="630" width="2" height="3"/><rect x="361" y="630" width="1" height="3"/><rect x="360" y="631" width="3" height="1"/><rect x="363" y="630" width="1" height="3"/><rect x="365" y="630" width="1" height="3"/><rect x="367" y="630" width="1" height="3"/><rect x="366" y="631" width="3" height="1"/><rect x="369" y="630" width="1" height="3"/><rect x="371" y="630" width="1" height="3"/><rect x="387" y="630" width="2" height="3"/><rect x="360" y="633" width="2" height="3"/><rect x="367" y="633" width="1" height="3"/><rect x="366" y="634" width="3" height="1"/><rect x="379" y="633" width="1" height="3"/><rect x="378" y="634" width="3" height="1"/><rect x="396" y="633" width="2" height="3"/><rect x="360" y="636" width="2" height="3"/><rect x="381" y="636" width="1" height="3"/><rect x="383" y="636" width="1" height="3"/><rect x="388" y="636" width="1" height="3"/><rect x="387" y="637" width="3" height="1"/><rect x="390" y="636" width="1" height="3"/><rect x="392" y="636" width="1" height="3"/><rect x="393" y="636" width="1" height="3"/><rect x="395" y="636" width="1" height="3"/><rect x="363" y="639" width="1" height="3"/><rect x="365" y="639" width="1" height="3"/><rect x="372" y="639" width="2" height="3"/><rect x="378" y="639" width="2" height="3"/><rect x="382" y="639" width="1" height="3"/><rect x="381" y="640" width="3" height="1"/><rect x="345" y="642" width="1" height="3"/><rect x="347" y="642" width="1" height="3"/><rect x="363" y="642" width="1" height="3"/><rect x="365" y="642" width="1" height="3"/><rect x="366" y="642" width="2" height="3"/><rect x="351" y="651" width="1" height="3"/><rect x="353" y="651" width="1" height="3"/><rect x="315" y="654" width="1" height="3"/><rect x="317" y="654" width="1" height="3"/><rect x="351" y="654" width="2" height="3"/><rect x="366" y="654" width="2" height="3"/><rect x="379" y="654" width="1" height="3"/><rect x="378" y="655" width="3" height="1"/></g><g fill="#888" shape-rendering="crispEdges"></g><g fill="#111" shape-rendering="crispEdges"><rect x="384" y="525" width="3" height="3"/><rect x="381" y="534" width="3" height="3"/><rect x="402" y="534" width="3" height="3"/><rect x="366" y="537" width="3" height="3"/><rect x="375" y="540" width="3" height="3"/><rect x="354" y="543" width="6" height="3"/><rect x="363" y="543" width="18" height="3"/><rect x="387" y="543" width="3" height="3"/><rect x="351" y="546" width="3" height="3"/><rect x="357" y="546" width="3" height="3"/><rect x="363" y="546" width="30" height="3"/><rect x="351" y="549" width="9" height="3"/><rect x="363" y="549" width="33" height="3"/><rect x="351" y="552" width="9" height="3"/><rect x="363" y="552" width="12" height="3"/><rect x="378" y="552" width="18" height="3"/><rect x="354" y="555" width="42" height="3"/><rect x="399" y="555" width="3" height="3"/><rect x="354" y="558" width="24" height="3"/><rect x="384" y="558" width="15" height="3"/><rect x="402" y="558" width="3" height="3"/><rect x="351" y="561" width="9" height="3"/><rect x="363" y="561" width="3" height="3"/><rect x="369" y="561" width="15" height="3"/><rect x="387" y="561" width="18" height="3"/><rect x="426" y="561" width="3" height="3"/><rect x="354" y="564" width="27" height="3"/><rect x="384" y="564" width="12" height="3"/><rect x="402" y="564" width="3" height="3"/><rect x="354" y="567" width="45" height="3"/><rect x="402" y="567" width="3" height="3"/><rect x="342" y="570" width="3" height="3"/><rect x="351" y="570" width="42" height="3"/><rect x="396" y="570" width="6" height="3"/><rect x="405" y="570" width="3" height="3"/><rect x="417" y="570" width="3" height="3"/><rect x="354" y="573" width="15" height="3"/><rect x="372" y="573" width="9" height="3"/><rect x="384" y="573" width="18" height="3"/><rect x="351" y="576" width="9" height="3"/><rect x="366" y="576" width="39" height="3"/><rect x="354" y="579" width="3" height="3"/><rect x="360" y="579" width="12" height="3"/><rect x="375" y="579" width="30" height="3"/><rect x="351" y="582" width="6" height="3"/><rect x="360" y="582" width="15" height="3"/><rect x="378" y="582" width="3" height="3"/><rect x="384" y="582" width="18" height="3"/><rect x="408" y="582" width="3" height="3"/><rect x="354" y="585" width="48" height="3"/><rect x="354" y="588" width="45" height="3"/><rect x="405" y="588" width="3" height="3"/><rect x="354" y="591" width="12" height="3"/><rect x="369" y="591" width="6" height="3"/><rect x="378" y="591" width="21" height="3"/><rect x="354" y="594" width="9" height="3"/><rect x="366" y="594" width="36" height="3"/><rect x="354" y="597" width="3" height="3"/><rect x="360" y="597" width="9" height="3"/><rect x="372" y="597" width="30" height="3"/><rect x="354" y="600" width="9" height="3"/><rect x="369" y="600" width="9" height="3"/><rect x="384" y="600" width="15" height="3"/><rect x="360" y="603" width="6" height="3"/><rect x="369" y="603" width="6" height="3"/><rect x="381" y="603" width="3" height="3"/><rect x="387" y="603" width="9" height="3"/><rect x="399" y="603" width="3" height="3"/><rect x="357" y="606" width="15" height="3"/><rect x="378" y="606" width="9" height="3"/><rect x="393" y="606" width="6" height="3"/><rect x="357" y="609" width="6" height="3"/><rect x="366" y="609" width="3" height="3"/><rect x="372" y="609" width="3" height="3"/><rect x="381" y="609" width="3" height="3"/><rect x="390" y="609" width="9" height="3"/><rect x="357" y="612" width="12" height="3"/><rect x="372" y="612" width="6" height="3"/><rect x="381" y="612" width="3" height="3"/><rect x="387" y="612" width="6" height="3"/><rect x="396" y="612" width="3" height="3"/><rect x="354" y="615" width="3" height="3"/><rect x="360" y="615" width="12" height="3"/><rect x="378" y="615" width="15" height="3"/><rect x="396" y="615" width="3" height="3"/><rect x="357" y="618" width="6" height="3"/><rect x="366" y="618" width="3" height="3"/><rect x="372" y="618" width="9" height="3"/><rect x="384" y="618" width="3" height="3"/><rect x="390" y="618" width="3" height="3"/><rect x="396" y="618" width="3" height="3"/><rect x="357" y="621" width="9" height="3"/><rect x="372" y="621" width="3" height="3"/><rect x="378" y="621" width="12" height="3"/><rect x="393" y="621" width="3" height="3"/><rect x="360" y="624" width="18" height="3"/><rect x="384" y="624" width="6" height="3"/><rect x="357" y="627" width="3" height="3"/><rect x="363" y="627" width="3" height="3"/><rect x="369" y="627" width="6" height="3"/><rect x="387" y="627" width="6" height="3"/><rect x="372" y="630" width="6" height="3"/><rect x="381" y="630" width="3" height="3"/><rect x="408" y="630" width="3" height="3"/><rect x="357" y="633" width="3" height="3"/><rect x="363" y="633" width="3" height="3"/><rect x="372" y="633" width="6" height="3"/><rect x="381" y="633" width="9" height="3"/><rect x="363" y="636" width="15" height="3"/><rect x="366" y="639" width="6" height="3"/><rect x="375" y="639" width="3" height="3"/><rect x="369" y="642" width="12" height="3"/><rect x="366" y="645" width="3" height="3"/><rect x="372" y="645" width="3" height="3"/><rect x="378" y="645" width="3" height="3"/></g>
<path d="M296.50,494.70 L514.40,495.20 L514.40,659.90 L296.50,659.70 Z" stroke="#1e1e1e" stroke-width="1.7" fill="none" stroke-linejoin="miter"/>
<text x="294.90" y="669.50" font-family="Liberation Mono" font-weight="bold" font-size="6" text-anchor="start" fill="#000" textLength="8.9" lengthAdjust="spacingAndGlyphs" stroke="#000" stroke-width="0.45">.1</text>
<text x="351.48" y="669.50" font-family="Liberation Mono" font-weight="bold" font-size="6" text-anchor="start" fill="#000" textLength="3.8" lengthAdjust="spacingAndGlyphs" stroke="#000" stroke-width="0.45">1</text>
<text x="400.15" y="669.50" font-family="Liberation Mono" font-weight="bold" font-size="6" text-anchor="start" fill="#000" textLength="9.2" lengthAdjust="spacingAndGlyphs" stroke="#000" stroke-width="0.45">10</text>
<text x="450.22" y="669.50" font-family="Liberation Mono" font-weight="bold" font-size="6" text-anchor="start" fill="#000" textLength="13.8" lengthAdjust="spacingAndGlyphs" stroke="#000" stroke-width="0.45">100</text>
<text x="492.10" y="669.50" font-family="Liberation Mono" font-weight="bold" font-size="6" text-anchor="start" fill="#000" textLength="21.5" lengthAdjust="spacingAndGlyphs" stroke="#000" stroke-width="0.45">1000</text>
<text x="393.45" y="675.30" font-family="Liberation Mono" font-weight="bold" font-size="5.8" text-anchor="start" fill="#000" textLength="21.2" lengthAdjust="spacingAndGlyphs" stroke="#000" stroke-width="0.45">CD38</text>
<text x="289.90" y="655.80" font-family="Liberation Mono" font-weight="bold" font-size="6.4" text-anchor="end" fill="#000" textLength="6.9" lengthAdjust="spacingAndGlyphs" transform="rotate(-90 289.90 655.80)" stroke="#000" stroke-width="0.45">.1</text>
<text x="289.90" y="615.10" font-family="Liberation Mono" font-weight="bold" font-size="6.4" text-anchor="end" fill="#000" textLength="3.6" lengthAdjust="spacingAndGlyphs" transform="rotate(-90 289.90 615.10)" stroke="#000" stroke-width="0.45">1</text>
<text x="289.90" y="574.10" font-family="Liberation Mono" font-weight="bold" font-size="6.4" text-anchor="end" fill="#000" textLength="6.8" lengthAdjust="spacingAndGlyphs" transform="rotate(-90 289.90 574.10)" stroke="#000" stroke-width="0.45">10</text>
<text x="289.90" y="532.40" font-family="Liberation Mono" font-weight="bold" font-size="6.4" text-anchor="end" fill="#000" textLength="12.4" lengthAdjust="spacingAndGlyphs" transform="rotate(-90 289.90 532.40)" stroke="#000" stroke-width="0.45">100</text>
<text x="289.90" y="495.30" font-family="Liberation Mono" font-weight="bold" font-size="6.4" text-anchor="end" fill="#000" textLength="16.7" lengthAdjust="spacingAndGlyphs" transform="rotate(-90 289.90 495.30)" stroke="#000" stroke-width="0.45">1000</text>
<text x="281.70" y="585.60" font-family="Liberation Sans" font-weight="bold" font-size="7.4" text-anchor="start" fill="#000" textLength="16.8" lengthAdjust="spacingAndGlyphs" transform="rotate(-90 281.70 585.60)" stroke="#000" stroke-width="0.25">CD45</text>
<text x="296.50" y="487.00" font-family="Liberation Mono" font-weight="bold" font-size="5.5" text-anchor="start" fill="#222" textLength="19.5" lengthAdjust="spacingAndGlyphs" stroke="#222" stroke-width="0.15">G1 A</text>
<text x="361.50" y="504.20" font-family="Liberation Mono" font-weight="bold" font-size="6" text-anchor="start" fill="#000" textLength="3.8" lengthAdjust="spacingAndGlyphs" stroke="#000" stroke-width="0.45">1</text>
<text x="507.80" y="504.40" font-family="Liberation Mono" font-weight="bold" font-size="6" text-anchor="start" fill="#000" textLength="4.6" lengthAdjust="spacingAndGlyphs" stroke="#000" stroke-width="0.45">2</text>
<text x="361.50" y="609.40" font-family="Liberation Mono" font-weight="bold" font-size="6" text-anchor="start" fill="#000" textLength="3.9" lengthAdjust="spacingAndGlyphs" stroke="#000" stroke-width="0.45">3</text>
<text x="507.50" y="609.20" font-family="Liberation Mono" font-weight="bold" font-size="6" text-anchor="start" fill="#000" textLength="4.4" lengthAdjust="spacingAndGlyphs" stroke="#000" stroke-width="0.45">4</text>
<text x="411.00" y="597.40" font-family="Liberation Mono" font-weight="bold" font-size="5.6" text-anchor="start" fill="#000" textLength="5.0" lengthAdjust="spacingAndGlyphs" stroke="#000" stroke-width="0.45">D</text>
<text x="388.90" y="655.80" font-family="Liberation Mono" font-weight="bold" font-size="5.6" text-anchor="start" fill="#000" textLength="3.9" lengthAdjust="spacingAndGlyphs" stroke="#000" stroke-width="0.45">E</text>
<text x="446.90" y="533.10" font-family="Liberation Serif" font-weight="normal" font-size="14" text-anchor="start" fill="#111" textLength="36.1" lengthAdjust="spacingAndGlyphs">60.1%</text>
<text x="4.20" y="18.60" font-family="Liberation Sans" font-weight="bold" font-size="19.2" text-anchor="start" fill="#000" stroke="#000" stroke-width="0.4">A</text>
<text x="179.60" y="17.20" font-family="Liberation Serif" font-weight="normal" font-size="23.3" text-anchor="start" fill="#000" textLength="56.3" lengthAdjust="spacingAndGlyphs">CD45</text>
<rect x="237.3" y="3.6" width="13.1" height="1.3" fill="#000"/>
<text x="261.60" y="17.20" font-family="Liberation Serif" font-weight="normal" font-size="23.3" text-anchor="start" fill="#000" textLength="59.6" lengthAdjust="spacingAndGlyphs">U-266</text>
<text x="96.40" y="56.00" font-family="Liberation Serif" font-weight="normal" font-size="20" text-anchor="start" fill="#000" textLength="66.6" lengthAdjust="spacingAndGlyphs">Medium</text>
<text x="342.00" y="56.00" font-family="Liberation Serif" font-weight="normal" font-size="20" text-anchor="start" fill="#000" textLength="123.6" lengthAdjust="spacingAndGlyphs">Medium + IL-6</text>
<text x="12.30" y="169.60" font-family="Liberation Serif" font-weight="bold" font-size="15.5" text-anchor="start" fill="#000" textLength="42.6" lengthAdjust="spacingAndGlyphs" transform="rotate(-90 12.30 169.60)" stroke="#000" stroke-width="0.35">2 days</text>
<text x="12.30" y="390.80" font-family="Liberation Serif" font-weight="bold" font-size="15.5" text-anchor="start" fill="#000" textLength="42.0" lengthAdjust="spacingAndGlyphs" transform="rotate(-90 12.30 390.80)" stroke="#000" stroke-width="0.35">8 days</text>
<text x="12.30" y="609.30" font-family="Liberation Serif" font-weight="bold" font-size="15.5" text-anchor="start" fill="#000" textLength="51.1" lengthAdjust="spacingAndGlyphs" transform="rotate(-90 12.30 609.30)" stroke="#000" stroke-width="0.35">20 days</text>
<text x="21.00" y="495.70" font-family="Liberation Serif" font-weight="normal" font-size="16.5" text-anchor="start" fill="#000" textLength="38.0" lengthAdjust="spacingAndGlyphs" transform="rotate(-90 21.00 495.70)">CD45</text>
<text x="221.50" y="703.10" font-family="Liberation Serif" font-weight="normal" font-size="16.5" text-anchor="start" fill="#000" textLength="37.2" lengthAdjust="spacingAndGlyphs">CD38</text>
<path d="M24.5,327V661.5" stroke="#111" stroke-width="1.3"/>
<path d="M24.5,320.8L27.7,328.2L21.3,328.2Z" fill="#111"/>
<path d="M42.3,678.8H410" stroke="#222" stroke-width="1.6"/>
<path d="M416.5,678.8L409.2,675.9L409.2,681.7Z" fill="#111"/>
</svg>
</body></html>
